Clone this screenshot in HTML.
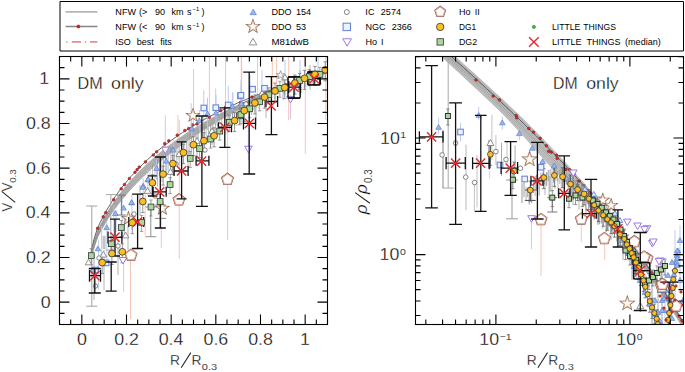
<!DOCTYPE html>
<html><head><meta charset="utf-8"><style>
html,body{margin:0;padding:0;background:#fff;width:685px;height:372px;overflow:hidden}
svg{display:block}
text{font-family:"Liberation Sans", sans-serif}
.th text{stroke:#fff;stroke-width:0.3px;paint-order:normal}
.th text.nt{stroke:#fff;stroke-width:0.15px}
</style></head><body>
<svg width="685" height="372" viewBox="0 0 685 372">
<defs><clipPath id="cl"><rect x="59.5" y="56.5" width="268" height="268"/></clipPath><clipPath id="cr"><rect x="415.5" y="56.5" width="268" height="268"/></clipPath></defs>
<path d="M60 1.5H683.5V51H60Z" fill="none" stroke="#000" stroke-width="1"/>
<path d="M65.6 11.9H97.4" stroke="#b5b5b5" stroke-width="1.6"/>
<path d="M65.6 26.5H97.4" stroke="#858585" stroke-width="1.6"/>
<circle cx="78.40" cy="26.50" r="1.5" fill="#e02020" stroke="#8a1010" stroke-width="0.6"/>
<path d="M66.3 41.9h1.2M71.9 41.9H81M85 41.9h1.2M90 41.9H97.4" stroke="#ec8a8a" stroke-width="1.6"/>
<polygon points="250.00,14.67 256.40,14.67 253.20,9.13" fill="#9ab6ee" stroke="#5f7fcc" stroke-width="0.7"/>
<polygon points="253.00,21.00 254.38,24.70 258.33,24.87 255.24,27.33 256.29,31.13 253.00,28.95 249.71,31.13 250.76,27.33 247.67,24.87 251.62,24.70" fill="none" stroke="#7d6a60" stroke-width="1.9"/><polygon points="253.00,21.00 254.38,24.70 258.33,24.87 255.24,27.33 256.29,31.13 253.00,28.95 249.71,31.13 250.76,27.33 247.67,24.87 251.62,24.70" fill="#fffaf4" stroke="#eab79c" stroke-width="0.8"/>
<polygon points="249.20,44.89 256.80,44.89 253.00,38.31" fill="#fff" stroke="#777" stroke-width="0.8"/>
<circle cx="346.80" cy="12.10" r="2.5" fill="#fff" stroke="#555" stroke-width="0.7"/>
<rect x="343.10" y="23.20" width="7.4" height="7.4" fill="#eef2ff" stroke="#6a86d8" stroke-width="1.1"/>
<polygon points="342.80,38.78 351.40,38.78 347.10,46.22" fill="#fff" stroke="#9a7ae6" stroke-width="1.0"/>
<polygon points="440.20,6.90 444.96,10.35 443.14,15.95 437.26,15.95 435.44,10.35" fill="none" stroke="#6a5a55" stroke-width="2.1"/><polygon points="440.20,6.90 444.96,10.35 443.14,15.95 437.26,15.95 435.44,10.35" fill="#fff" stroke="#eca48e" stroke-width="1.1"/>
<circle cx="440.20" cy="26.90" r="3.7" fill="#fbbf22" stroke="#333" stroke-width="0.8"/>
<rect x="437.00" y="38.70" width="6.4" height="6.4" fill="#a8d89a" stroke="#333" stroke-width="0.8"/>
<circle cx="533.90" cy="26.90" r="1.6" fill="#3cc03c" stroke="#1a6a1a" stroke-width="0.5"/>
<path d="M529.10 37.20L538.70 46.80M529.10 46.80L538.70 37.20" stroke="#e8262a" stroke-width="1.4" fill="none"/>
<text x="0" y="0" transform="translate(115.27,45.00) scale(1.040,1)" font-size="8.7" fill="#000" >ISO</text>
<text x="0" y="0" transform="translate(136.64,45.00) scale(1.040,1)" font-size="8.7" fill="#000" >best</text>
<text x="0" y="0" transform="translate(160.35,45.00) scale(1.040,1)" font-size="8.7" fill="#000" >fits</text>
<text x="0" y="0" transform="translate(271.56,14.80) scale(1.040,1)" font-size="8.7" fill="#000" >DDO</text>
<text x="0" y="0" transform="translate(295.95,14.80) scale(1.040,1)" font-size="8.7" fill="#000" >154</text>
<text x="0" y="0" transform="translate(271.56,29.90) scale(1.040,1)" font-size="8.7" fill="#000" >DDO</text>
<text x="0" y="0" transform="translate(296.04,29.90) scale(1.040,1)" font-size="8.7" fill="#000" >53</text>
<text x="0" y="0" transform="translate(271.51,45.00) scale(1.108,1)" font-size="8.7" fill="#000" >M81dwB</text>
<text x="0" y="0" transform="translate(365.37,14.80) scale(1.040,1)" font-size="8.7" fill="#000" >IC</text>
<text x="0" y="0" transform="translate(380.84,14.80) scale(1.040,1)" font-size="8.7" fill="#000" >2574</text>
<text x="0" y="0" transform="translate(365.46,29.90) scale(1.040,1)" font-size="8.7" fill="#000" >NGC</text>
<text x="0" y="0" transform="translate(391.77,29.90) scale(1.040,1)" font-size="8.7" fill="#000" >2366</text>
<text x="0" y="0" transform="translate(365.46,45.00) scale(1.040,1)" font-size="8.7" fill="#000" >Ho</text>
<text x="0" y="0" transform="translate(381.11,45.00) scale(1.040,1)" font-size="8.7" fill="#000" >I</text>
<text x="0" y="0" transform="translate(458.96,14.80) scale(1.040,1)" font-size="8.7" fill="#000" >Ho</text>
<text x="0" y="0" transform="translate(474.69,14.80) scale(1.040,1)" font-size="8.7" fill="#000" >II</text>
<text x="0" y="0" transform="translate(459.01,29.90) scale(0.961,1)" font-size="8.7" fill="#000" >DG1</text>
<text x="0" y="0" transform="translate(458.98,45.00) scale(1.016,1)" font-size="8.7" fill="#000" >DG2</text>
<text x="0" y="0" transform="translate(551.99,29.90) scale(0.992,1)" font-size="8.7" fill="#000" >LITTLE</text>
<text x="0" y="0" transform="translate(583.32,29.90) scale(0.992,1)" font-size="8.7" fill="#000" >THINGS</text>
<text x="0" y="0" transform="translate(551.96,45.00) scale(1.040,1)" font-size="8.7" fill="#000" >LITTLE</text>
<text x="0" y="0" transform="translate(586.46,45.00) scale(1.040,1)" font-size="8.7" fill="#000" >THINGS</text>
<text x="0" y="0" transform="translate(625.09,45.00) scale(1.040,1)" font-size="8.7" fill="#000" >(median)</text>
<text x="0" y="0" transform="translate(115.36,14.80) scale(1.040,1)" font-size="8.7" fill="#000" >NFW</text>
<text x="0" y="0" transform="translate(139.04,14.80) scale(1.040,1)" font-size="8.7" fill="#000" >(&gt;</text>
<text x="0" y="0" transform="translate(154.88,14.80) scale(1.040,1)" font-size="8.7" fill="#000" >90</text>
<text x="0" y="0" transform="translate(171.39,14.80) scale(1.040,1)" font-size="8.7" fill="#000" >km</text>
<text x="0" y="0" transform="translate(186.95,14.80) scale(1.040,1)" font-size="8.7" fill="#000" >s</text>
<text x="0" y="0" transform="translate(192.51,11.40) scale(1.000,1)" font-size="5.8" fill="#000" >−1</text>
<text x="0" y="0" transform="translate(201.55,14.80) scale(1.040,1)" font-size="8.7" fill="#000" >)</text>
<text x="0" y="0" transform="translate(115.36,29.90) scale(1.040,1)" font-size="8.7" fill="#000" >NFW</text>
<text x="0" y="0" transform="translate(139.04,29.90) scale(1.040,1)" font-size="8.7" fill="#000" >(&lt;</text>
<text x="0" y="0" transform="translate(154.88,29.90) scale(1.040,1)" font-size="8.7" fill="#000" >90</text>
<text x="0" y="0" transform="translate(171.39,29.90) scale(1.040,1)" font-size="8.7" fill="#000" >km</text>
<text x="0" y="0" transform="translate(186.95,29.90) scale(1.040,1)" font-size="8.7" fill="#000" >s</text>
<text x="0" y="0" transform="translate(192.51,26.50) scale(1.000,1)" font-size="5.8" fill="#000" >−1</text>
<text x="0" y="0" transform="translate(201.55,29.90) scale(1.040,1)" font-size="8.7" fill="#000" >)</text>
<g clip-path="url(#cl)">
<path d="M193.5 69V135" stroke="#f6c0aa" stroke-width="0.9"/>
<path d="M209.4 56.5V125" stroke="#f6c0aa" stroke-width="0.9"/>
<path d="M225.5 56.5V120" stroke="#f6c0aa" stroke-width="0.9"/>
<path d="M241.3 56.5V108" stroke="#f6c0aa" stroke-width="0.9"/>
<path d="M257.5 56.5V100" stroke="#f6c0aa" stroke-width="0.9"/>
<path d="M272.3 56.5V95" stroke="#f6c0aa" stroke-width="0.9"/>
<path d="M276.7 56.5V90" stroke="#f6c0aa" stroke-width="0.9"/>
<path d="M288.7 56.5V120" stroke="#f6c0aa" stroke-width="0.9"/>
<path d="M305.3 56.5V154" stroke="#f6c0aa" stroke-width="0.9"/>
<path d="M325.8 56.5V120" stroke="#f6c0aa" stroke-width="0.9"/>
<path d="M241.7 56.5V110" stroke="#f6c0aa" stroke-width="0.9"/>
<path d="M130.5 250V319" stroke="#f6c0aa" stroke-width="0.9"/>
<path d="M179.3 120V258.6" stroke="#f6c0aa" stroke-width="0.9"/>
<path d="M227.6 120V240" stroke="#f6c0aa" stroke-width="0.9"/>
<path d="M161.3 200V248" stroke="#f6c0aa" stroke-width="0.9"/>
<path d="M145.2 190V235" stroke="#f6c0aa" stroke-width="0.9"/>
<path d="M177.9 115V160" stroke="#f6c0aa" stroke-width="0.9"/>
<path d="M191.2 103.3V140" stroke="#b4c6f2" stroke-width="0.9"/>
<path d="M203.8 90.3V130" stroke="#b4c6f2" stroke-width="0.9"/>
<path d="M207.5 97.7V130" stroke="#b4c6f2" stroke-width="0.9"/>
<path d="M215.7 88.5V125" stroke="#b4c6f2" stroke-width="0.9"/>
<path d="M228.3 85.7V120" stroke="#b4c6f2" stroke-width="0.9"/>
<path d="M233.0 93.1V118" stroke="#b4c6f2" stroke-width="0.9"/>
<path d="M241.0 80.1V112" stroke="#b4c6f2" stroke-width="0.9"/>
<path d="M250 75V110" stroke="#b4c6f2" stroke-width="0.9"/>
<path d="M262 70V105" stroke="#b4c6f2" stroke-width="0.9"/>
<path d="M285 60V95" stroke="#b4c6f2" stroke-width="0.9"/>
<path d="M300 60V90" stroke="#b4c6f2" stroke-width="0.9"/>
<path d="M318 56.5V80" stroke="#b4c6f2" stroke-width="0.9"/>
<path d="M165.3 115.4V160" stroke="#d0c0f4" stroke-width="0.9"/>
<path d="M123.6 262V291.7" stroke="#d0c0f4" stroke-width="0.9"/>
<path d="M290.5 95V119" stroke="#d0c0f4" stroke-width="0.9"/>
<path d="M248.4 120V160" stroke="#d0c0f4" stroke-width="0.9"/>
<path d="M90.8 254.4 L94.3 241.2 L97.8 230.7 L101.3 223.5 L104.7 217.0 L108.2 211.0 L111.7 205.5 L115.2 200.4 L118.7 195.5 L122.2 191.0 L125.7 186.6 L129.2 182.5 L132.7 178.6 L136.2 174.9 L139.7 171.3 L143.2 167.8 L146.7 164.5 L150.2 161.3 L153.7 158.2 L157.2 155.2 L160.7 152.3 L164.2 149.5 L167.7 146.8 L171.2 144.2 L174.7 141.6 L178.2 139.1 L181.7 136.7 L185.1 134.4 L188.6 132.1 L192.1 129.9 L195.6 127.7 L199.1 125.6 L202.6 123.5 L206.1 121.5 L209.6 119.5 L213.1 117.6 L216.6 115.7 L220.1 113.9 L223.6 112.1 L227.1 110.3 L230.6 108.6 L234.1 106.9 L237.6 105.2 L241.1 103.6 L244.6 102.0 L248.1 100.5 L251.6 99.0 L255.1 97.5 L258.6 96.0 L262.1 94.6 L265.5 93.1 L269.0 91.8 L272.5 90.4 L276.0 89.1 L279.5 87.8 L283.0 86.5 L286.5 85.2 L290.0 84.0 L293.5 82.8 L297.0 81.6 L300.5 80.4 L304.0 79.2 L307.5 78.1 L311.0 77.0 L314.5 75.9 L318.0 74.8 L321.5 73.7 L325.0 72.7 L328.5 71.6 L332.0 70.6 L332.0 68.4 L328.5 69.7 L325.0 71.0 L321.5 72.4 L318.0 73.7 L314.5 75.1 L311.0 76.5 L307.5 77.9 L304.0 79.3 L300.5 80.7 L297.0 82.2 L293.5 83.7 L290.0 85.2 L286.5 86.7 L283.0 88.2 L279.5 89.8 L276.0 91.3 L272.5 92.9 L269.0 94.6 L265.5 96.2 L262.1 97.9 L258.6 99.5 L255.1 101.3 L251.6 103.0 L248.1 104.8 L244.6 106.6 L241.1 108.4 L237.6 110.2 L234.1 112.1 L230.6 114.0 L227.1 116.0 L223.6 117.9 L220.1 119.9 L216.6 122.0 L213.1 124.1 L209.6 126.2 L206.1 128.3 L202.6 130.5 L199.1 132.8 L195.6 135.0 L192.1 137.4 L188.6 139.8 L185.1 142.2 L181.7 144.7 L178.2 147.2 L174.7 149.8 L171.2 152.5 L167.7 155.2 L164.2 158.0 L160.7 160.9 L157.2 163.8 L153.7 166.8 L150.2 170.0 L146.7 173.2 L143.2 176.5 L139.7 179.9 L136.2 183.5 L132.7 187.2 L129.2 191.0 L125.7 195.0 L122.2 199.2 L118.7 203.6 L115.2 208.2 L111.7 213.2 L108.2 218.4 L104.7 224.0 L101.3 230.1 L97.8 236.8 L94.3 246.8 L90.8 259.2Z" fill="#c6c6c6" stroke="none"/>
<path d="M90.8 259.2 L94.3 246.8 L97.8 236.8 L101.3 230.1 L104.7 224.0 L108.2 218.4 L111.7 213.2 L115.2 208.2 L118.7 203.6 L122.2 199.2 L125.7 195.0 L129.2 191.0 L132.7 187.2 L136.2 183.5 L139.7 179.9 L143.2 176.5 L146.7 173.2 L150.2 170.0 L153.7 166.8 L157.2 163.8 L160.7 160.9 L164.2 158.0 L167.7 155.2 L171.2 152.5 L174.7 149.8 L178.2 147.2 L181.7 144.7 L185.1 142.2 L188.6 139.8 L192.1 137.4 L195.6 135.0 L199.1 132.8 L202.6 130.5 L206.1 128.3 L209.6 126.2 L213.1 124.1 L216.6 122.0 L220.1 119.9 L223.6 117.9 L227.1 116.0 L230.6 114.0 L234.1 112.1 L237.6 110.2 L241.1 108.4 L244.6 106.6 L248.1 104.8 L251.6 103.0 L255.1 101.3 L258.6 99.5 L262.1 97.9 L265.5 96.2 L269.0 94.6 L272.5 92.9 L276.0 91.3 L279.5 89.8 L283.0 88.2 L286.5 86.7 L290.0 85.2 L293.5 83.7 L297.0 82.2 L300.5 80.7 L304.0 79.3 L307.5 77.9 L311.0 76.5 L314.5 75.1 L318.0 73.7 L321.5 72.4 L325.0 71.0 L328.5 69.7 L332.0 68.4" fill="none" stroke="#959595" stroke-width="0.7"/>
<path d="M90.8 258.4 L94.3 245.8 L97.8 235.7 L101.3 229.0 L104.7 222.8 L108.2 217.1 L111.7 211.8 L115.2 206.9 L118.7 202.2 L122.2 197.8 L125.7 193.6 L129.2 189.6 L132.7 185.7 L136.2 182.0 L139.7 178.4 L143.2 175.0 L146.7 171.7 L150.2 168.4 L153.7 165.3 L157.2 162.3 L160.7 159.4 L164.2 156.5 L167.7 153.7 L171.2 151.0 L174.7 148.4 L178.2 145.8 L181.7 143.3 L185.1 140.8 L188.6 138.4 L192.1 136.0 L195.6 133.7 L199.1 131.5 L202.6 129.3 L206.1 127.1 L209.6 125.0 L213.1 122.9 L216.6 120.8 L220.1 118.8 L223.6 116.9 L227.1 114.9 L230.6 113.0 L234.1 111.2 L237.6 109.3 L241.1 107.5 L244.6 105.7 L248.1 104.0 L251.6 102.3 L255.1 100.6 L258.6 98.9 L262.1 97.3 L265.5 95.6 L269.0 94.0 L272.5 92.5 L276.0 90.9 L279.5 89.4 L283.0 87.9 L286.5 86.4 L290.0 84.9 L293.5 83.5 L297.0 82.1 L300.5 80.7 L304.0 79.3 L307.5 77.9 L311.0 76.6 L314.5 75.2 L318.0 73.9 L321.5 72.6 L325.0 71.3 L328.5 70.1 L332.0 68.8" fill="none" stroke="#959595" stroke-width="0.7"/>
<path d="M90.8 257.6 L94.3 244.9 L97.8 234.7 L101.3 227.8 L104.7 221.6 L108.2 215.9 L111.7 210.5 L115.2 205.6 L118.7 200.9 L122.2 196.4 L125.7 192.2 L129.2 188.1 L132.7 184.2 L136.2 180.5 L139.7 176.9 L143.2 173.5 L146.7 170.2 L150.2 167.0 L153.7 163.8 L157.2 160.8 L160.7 157.9 L164.2 155.0 L167.7 152.3 L171.2 149.6 L174.7 146.9 L178.2 144.4 L181.7 141.9 L185.1 139.4 L188.6 137.1 L192.1 134.7 L195.6 132.5 L199.1 130.2 L202.6 128.0 L206.1 125.9 L209.6 123.8 L213.1 121.8 L216.6 119.8 L220.1 117.8 L223.6 115.8 L227.1 113.9 L230.6 112.1 L234.1 110.2 L237.6 108.4 L241.1 106.7 L244.6 104.9 L248.1 103.2 L251.6 101.6 L255.1 99.9 L258.6 98.3 L262.1 96.7 L265.5 95.1 L269.0 93.6 L272.5 92.0 L276.0 90.5 L279.5 89.0 L283.0 87.6 L286.5 86.2 L290.0 84.7 L293.5 83.3 L297.0 82.0 L300.5 80.6 L304.0 79.3 L307.5 78.0 L311.0 76.7 L314.5 75.4 L318.0 74.1 L321.5 72.9 L325.0 71.6 L328.5 70.4 L332.0 69.2" fill="none" stroke="#959595" stroke-width="0.7"/>
<path d="M90.8 256.8 L94.3 244.0 L97.8 233.7 L101.3 226.7 L104.7 220.4 L108.2 214.6 L111.7 209.3 L115.2 204.2 L118.7 199.5 L122.2 195.0 L125.7 190.7 L129.2 186.7 L132.7 182.8 L136.2 179.1 L139.7 175.5 L143.2 172.0 L146.7 168.7 L150.2 165.5 L153.7 162.4 L157.2 159.4 L160.7 156.5 L164.2 153.6 L167.7 150.9 L171.2 148.2 L174.7 145.6 L178.2 143.0 L181.7 140.5 L185.1 138.1 L188.6 135.8 L192.1 133.5 L195.6 131.2 L199.1 129.0 L202.6 126.9 L206.1 124.8 L209.6 122.7 L213.1 120.7 L216.6 118.7 L220.1 116.8 L223.6 114.9 L227.1 113.0 L230.6 111.2 L234.1 109.4 L237.6 107.6 L241.1 105.9 L244.6 104.2 L248.1 102.5 L251.6 100.9 L255.1 99.3 L258.6 97.7 L262.1 96.1 L265.5 94.6 L269.0 93.1 L272.5 91.6 L276.0 90.1 L279.5 88.7 L283.0 87.3 L286.5 85.9 L290.0 84.5 L293.5 83.2 L297.0 81.9 L300.5 80.5 L304.0 79.3 L307.5 78.0 L311.0 76.7 L314.5 75.5 L318.0 74.3 L321.5 73.1 L325.0 71.9 L328.5 70.7 L332.0 69.6" fill="none" stroke="#959595" stroke-width="0.7"/>
<path d="M90.8 256.0 L94.3 243.0 L97.8 232.7 L101.3 225.6 L104.7 219.3 L108.2 213.4 L111.7 208.0 L115.2 202.9 L118.7 198.2 L122.2 193.6 L125.7 189.4 L129.2 185.3 L132.7 181.4 L136.2 177.6 L139.7 174.1 L143.2 170.6 L146.7 167.3 L150.2 164.1 L153.7 161.0 L157.2 158.0 L160.7 155.0 L164.2 152.2 L167.7 149.5 L171.2 146.8 L174.7 144.2 L178.2 141.7 L181.7 139.2 L185.1 136.8 L188.6 134.5 L192.1 132.2 L195.6 130.0 L199.1 127.8 L202.6 125.7 L206.1 123.6 L209.6 121.6 L213.1 119.6 L216.6 117.7 L220.1 115.8 L223.6 113.9 L227.1 112.1 L230.6 110.3 L234.1 108.5 L237.6 106.8 L241.1 105.1 L244.6 103.4 L248.1 101.8 L251.6 100.2 L255.1 98.6 L258.6 97.1 L262.1 95.6 L265.5 94.1 L269.0 92.6 L272.5 91.2 L276.0 89.8 L279.5 88.4 L283.0 87.0 L286.5 85.7 L290.0 84.3 L293.5 83.0 L297.0 81.8 L300.5 80.5 L304.0 79.2 L307.5 78.0 L311.0 76.8 L314.5 75.6 L318.0 74.5 L321.5 73.3 L325.0 72.2 L328.5 71.1 L332.0 69.9" fill="none" stroke="#959595" stroke-width="0.7"/>
<path d="M90.8 255.2 L94.3 242.1 L97.8 231.7 L101.3 224.5 L104.7 218.1 L108.2 212.2 L111.7 206.7 L115.2 201.6 L118.7 196.8 L122.2 192.3 L125.7 188.0 L129.2 183.9 L132.7 180.0 L136.2 176.2 L139.7 172.6 L143.2 169.2 L146.7 165.9 L150.2 162.7 L153.7 159.6 L157.2 156.6 L160.7 153.7 L164.2 150.9 L167.7 148.1 L171.2 145.5 L174.7 142.9 L178.2 140.4 L181.7 138.0 L185.1 135.6 L188.6 133.3 L192.1 131.0 L195.6 128.8 L199.1 126.7 L202.6 124.6 L206.1 122.5 L209.6 120.5 L213.1 118.6 L216.6 116.7 L220.1 114.8 L223.6 113.0 L227.1 111.2 L230.6 109.4 L234.1 107.7 L237.6 106.0 L241.1 104.3 L244.6 102.7 L248.1 101.1 L251.6 99.6 L255.1 98.0 L258.6 96.5 L262.1 95.1 L265.5 93.6 L269.0 92.2 L272.5 90.8 L276.0 89.4 L279.5 88.1 L283.0 86.7 L286.5 85.4 L290.0 84.2 L293.5 82.9 L297.0 81.6 L300.5 80.4 L304.0 79.2 L307.5 78.0 L311.0 76.9 L314.5 75.7 L318.0 74.6 L321.5 73.5 L325.0 72.4 L328.5 71.3 L332.0 70.3" fill="none" stroke="#959595" stroke-width="0.7"/>
<path d="M90.8 254.4 L94.3 241.2 L97.8 230.7 L101.3 223.5 L104.7 217.0 L108.2 211.0 L111.7 205.5 L115.2 200.4 L118.7 195.5 L122.2 191.0 L125.7 186.6 L129.2 182.5 L132.7 178.6 L136.2 174.9 L139.7 171.3 L143.2 167.8 L146.7 164.5 L150.2 161.3 L153.7 158.2 L157.2 155.2 L160.7 152.3 L164.2 149.5 L167.7 146.8 L171.2 144.2 L174.7 141.6 L178.2 139.1 L181.7 136.7 L185.1 134.4 L188.6 132.1 L192.1 129.9 L195.6 127.7 L199.1 125.6 L202.6 123.5 L206.1 121.5 L209.6 119.5 L213.1 117.6 L216.6 115.7 L220.1 113.9 L223.6 112.1 L227.1 110.3 L230.6 108.6 L234.1 106.9 L237.6 105.2 L241.1 103.6 L244.6 102.0 L248.1 100.5 L251.6 99.0 L255.1 97.5 L258.6 96.0 L262.1 94.6 L265.5 93.1 L269.0 91.8 L272.5 90.4 L276.0 89.1 L279.5 87.8 L283.0 86.5 L286.5 85.2 L290.0 84.0 L293.5 82.8 L297.0 81.6 L300.5 80.4 L304.0 79.2 L307.5 78.1 L311.0 77.0 L314.5 75.9 L318.0 74.8 L321.5 73.7 L325.0 72.7 L328.5 71.6 L332.0 70.6" fill="none" stroke="#959595" stroke-width="0.7"/>
<path d="M91.1 250.8 L94.1 239.0 L97.2 229.0 L100.2 222.4 L103.3 216.4 L106.3 210.8 L109.4 205.7 L112.4 200.8 L115.5 196.3 L118.5 192.0 L121.6 187.9 L124.6 184.1 L127.7 180.4 L130.7 176.8 L133.8 173.5 L136.8 170.2 L139.9 167.1 L142.9 164.1 L146.0 161.2 L149.0 158.3 L152.1 155.6 L155.1 153.0 L158.2 150.5 L161.2 148.0 L164.3 145.6 L167.3 143.3 L170.4 141.0 L173.4 138.8 L176.5 136.7 L179.5 134.6 L182.6 132.6 L185.6 130.6 L188.7 128.7 L191.7 126.8 L194.8 124.9 L197.8 123.1 L200.9 121.4 L203.9 119.7 L206.9 118.0 L210.0 116.4 L213.0 114.8 L216.1 113.2 L219.1 111.7 L222.2 110.2 L225.2 108.7 L228.3 107.3 L231.3 105.9 L234.4 104.5 L237.4 103.1 L240.5 101.8 L243.5 100.5 L246.6 99.3 L249.6 98.0 L252.7 96.8 L255.7 95.6 L258.8 94.4 L261.8 93.2 L264.9 92.1 L267.9 91.0 L271.0 89.9 L274.0 88.8 L277.1 87.8 L280.1 86.7 L283.2 85.7 L286.2 84.7 L289.3 83.7 L292.3 82.7 L295.4 81.8 L298.4 80.8 L301.5 79.9 L304.5 79.0 L307.6 78.1 L310.6 77.3 L313.7 76.4 L316.7 75.5 L319.8 74.7 L322.8 73.9 L325.9 73.1 L328.9 72.3 L332.0 71.5" fill="none" stroke="#505050" stroke-width="0.9"/>
<circle cx="97.60" cy="228.30" r="1.35" fill="#d42a2a" stroke="#7a1515" stroke-width="0.5"/>
<circle cx="103.20" cy="216.90" r="1.35" fill="#d42a2a" stroke="#7a1515" stroke-width="0.5"/>
<circle cx="105.80" cy="212.60" r="1.35" fill="#d42a2a" stroke="#7a1515" stroke-width="0.5"/>
<circle cx="113.70" cy="199.70" r="1.35" fill="#d42a2a" stroke="#7a1515" stroke-width="0.5"/>
<circle cx="121.20" cy="188.80" r="1.35" fill="#d42a2a" stroke="#7a1515" stroke-width="0.5"/>
<circle cx="124.50" cy="184.60" r="1.35" fill="#d42a2a" stroke="#7a1515" stroke-width="0.5"/>
<circle cx="129.40" cy="178.50" r="1.35" fill="#d42a2a" stroke="#7a1515" stroke-width="0.5"/>
<circle cx="135.00" cy="172.30" r="1.35" fill="#d42a2a" stroke="#7a1515" stroke-width="0.5"/>
<circle cx="137.10" cy="169.70" r="1.35" fill="#d42a2a" stroke="#7a1515" stroke-width="0.5"/>
<circle cx="139.30" cy="167.10" r="1.35" fill="#d42a2a" stroke="#7a1515" stroke-width="0.5"/>
<circle cx="145.50" cy="161.90" r="1.35" fill="#d42a2a" stroke="#7a1515" stroke-width="0.5"/>
<circle cx="153.30" cy="155.00" r="1.35" fill="#d42a2a" stroke="#7a1515" stroke-width="0.5"/>
<circle cx="156.60" cy="151.80" r="1.35" fill="#d42a2a" stroke="#7a1515" stroke-width="0.5"/>
<circle cx="164.70" cy="143.70" r="1.35" fill="#d42a2a" stroke="#7a1515" stroke-width="0.5"/>
<circle cx="168.80" cy="140.80" r="1.35" fill="#d42a2a" stroke="#7a1515" stroke-width="0.5"/>
<circle cx="177.30" cy="135.20" r="1.35" fill="#d42a2a" stroke="#7a1515" stroke-width="0.5"/>
<circle cx="184.80" cy="130.50" r="1.35" fill="#d42a2a" stroke="#7a1515" stroke-width="0.5"/>
<circle cx="188.60" cy="128.60" r="1.35" fill="#d42a2a" stroke="#7a1515" stroke-width="0.5"/>
<circle cx="192.40" cy="124.80" r="1.35" fill="#d42a2a" stroke="#7a1515" stroke-width="0.5"/>
<circle cx="197.10" cy="123.90" r="1.35" fill="#d42a2a" stroke="#7a1515" stroke-width="0.5"/>
<circle cx="209.30" cy="117.30" r="1.35" fill="#d42a2a" stroke="#7a1515" stroke-width="0.5"/>
<circle cx="220.60" cy="110.70" r="1.35" fill="#d42a2a" stroke="#7a1515" stroke-width="0.5"/>
<circle cx="225.30" cy="107.30" r="1.35" fill="#d42a2a" stroke="#7a1515" stroke-width="0.5"/>
<circle cx="240.50" cy="102.50" r="1.35" fill="#d42a2a" stroke="#7a1515" stroke-width="0.5"/>
<circle cx="252.00" cy="97.05" r="1.35" fill="#d42a2a" stroke="#7a1515" stroke-width="0.5"/>
<circle cx="262.00" cy="93.17" r="1.35" fill="#d42a2a" stroke="#7a1515" stroke-width="0.5"/>
<circle cx="274.00" cy="88.82" r="1.35" fill="#d42a2a" stroke="#7a1515" stroke-width="0.5"/>
<circle cx="286.00" cy="84.77" r="1.35" fill="#d42a2a" stroke="#7a1515" stroke-width="0.5"/>
<circle cx="297.00" cy="81.28" r="1.35" fill="#d42a2a" stroke="#7a1515" stroke-width="0.5"/>
<circle cx="308.00" cy="78.01" r="1.35" fill="#d42a2a" stroke="#7a1515" stroke-width="0.5"/>
<circle cx="318.00" cy="75.19" r="1.35" fill="#d42a2a" stroke="#7a1515" stroke-width="0.5"/>
<rect x="102.5" y="235.8" width="3.0999999999999943" height="13.199999999999989" fill="#c4c4c4"/>
<path d="M124.3 216V238" stroke="#b0b0b0" stroke-width="0.9"/>
<path d="M101.6 226V265" stroke="#b5c6ee" stroke-width="0.9"/>
<path d="M106.9 222V262" stroke="#b5c6ee" stroke-width="0.9"/>
<path d="M113.8 205V250" stroke="#b5c6ee" stroke-width="0.9"/>
<path d="M116.1 210V232" stroke="#b5c6ee" stroke-width="0.9"/>
<path d="M122.2 200V240" stroke="#b5c6ee" stroke-width="0.9"/>
<path d="M98.6 240V290" stroke="#b5c6ee" stroke-width="0.9"/>
<path d="M131.9 195V230" stroke="#b5c6ee" stroke-width="0.9"/>
<path d="M143.2 178V200" stroke="#b5c6ee" stroke-width="0.9"/>
<path d="M147.9 170V195" stroke="#b5c6ee" stroke-width="0.9"/>
<path d="M156.6 160V180" stroke="#b5c6ee" stroke-width="0.9"/>
<path d="M166.2 150V175" stroke="#b5c6ee" stroke-width="0.9"/>
<path d="M173.2 140V162" stroke="#b5c6ee" stroke-width="0.9"/>
<path d="M191.7 118V140" stroke="#b5c6ee" stroke-width="0.9"/>
<path d="M199.3 110V132" stroke="#b5c6ee" stroke-width="0.9"/>
<path d="M207.5 100V128" stroke="#b5c6ee" stroke-width="0.9"/>
<path d="M216.0 95V125" stroke="#b5c6ee" stroke-width="0.9"/>
<path d="M232.4 92V118" stroke="#b5c6ee" stroke-width="0.9"/>
<path d="M241.3 85V115" stroke="#b5c6ee" stroke-width="0.9"/>
<path d="M140 185V215" stroke="#aaa" stroke-width="0.9"/>
<path d="M170.5 160V185" stroke="#aaa" stroke-width="0.9"/>
<path d="M188 150V170" stroke="#aaa" stroke-width="0.9"/>
<path d="M197 130V160" stroke="#aaa" stroke-width="0.9"/>
<path d="M212 120V145" stroke="#aaa" stroke-width="0.9"/>
<path d="M256 95V125" stroke="#aaa" stroke-width="0.9"/>
<path d="M266 88V118" stroke="#aaa" stroke-width="0.9"/>
<path d="M283 75V100" stroke="#aaa" stroke-width="0.9"/>
<path d="M300 70V95" stroke="#aaa" stroke-width="0.9"/>
<path d="M310 65V90" stroke="#aaa" stroke-width="0.9"/>
<path d="M94 255V300" stroke="#aaa" stroke-width="0.9"/>
<path d="M104 250V290" stroke="#aaa" stroke-width="0.9"/>
<path d="M118 240V275" stroke="#aaa" stroke-width="0.9"/>
<path d="M128 225V250" stroke="#aaa" stroke-width="0.9"/>
<path d="M91.8 206.0V306.2M86.3 206.0h11M86.3 306.2h11" stroke="#a0a0a0" stroke-width="1.0" fill="none"/>
<path d="M110.8 194.6V250.0M105.8 194.6h10M105.8 250.0h10" stroke="#a8a8a8" stroke-width="1.0" fill="none"/>
<path d="M150.8 207.0V236.7M145.3 207.0h11M145.3 236.7h11" stroke="#909090" stroke-width="1.0" fill="none"/>
<path d="M160.5 205.0V218.4M155.0 205.0h11M155.0 218.4h11" stroke="#8a8a8a" stroke-width="1.0" fill="none"/>
<path d="M121.4 195.1V215.0M116.9 195.1h9M116.9 215.0h9" stroke="#777" stroke-width="1.0" fill="none"/>
<path d="M150.0 164.7V192.0" stroke="#b4b4b4" stroke-width="0.55"/>
<path d="M152.5 163.9V187.7" stroke="#8c8c8c" stroke-width="0.55"/>
<path d="M155.0 161.7V185.3" stroke="#a0a0a0" stroke-width="0.55"/>
<path d="M157.6 159.5V186.6" stroke="#7a7a7a" stroke-width="0.55"/>
<path d="M159.5 160.3V177.8" stroke="#a0a0a0" stroke-width="0.55"/>
<path d="M161.9 156.3V182.0" stroke="#8c8c8c" stroke-width="0.55"/>
<path d="M163.5 157.6V172.2" stroke="#8c8c8c" stroke-width="0.55"/>
<path d="M165.9 151.6V176.3" stroke="#7a7a7a" stroke-width="0.55"/>
<path d="M168.1 153.7V171.4" stroke="#7a7a7a" stroke-width="0.55"/>
<path d="M170.7 147.1V168.3" stroke="#8c8c8c" stroke-width="0.55"/>
<path d="M172.3 146.4V173.9" stroke="#7a7a7a" stroke-width="0.55"/>
<path d="M174.6 148.5V164.9" stroke="#7a7a7a" stroke-width="0.55"/>
<path d="M176.7 145.1V162.5" stroke="#a0a0a0" stroke-width="0.55"/>
<path d="M179.2 144.2V166.2" stroke="#b4b4b4" stroke-width="0.55"/>
<path d="M181.8 142.3V154.3" stroke="#b4b4b4" stroke-width="0.55"/>
<path d="M184.3 142.0V156.7" stroke="#a0a0a0" stroke-width="0.55"/>
<path d="M186.5 141.0V151.4" stroke="#8c8c8c" stroke-width="0.55"/>
<path d="M188.0 139.3V158.9" stroke="#8c8c8c" stroke-width="0.55"/>
<path d="M189.8 133.4V156.3" stroke="#8c8c8c" stroke-width="0.55"/>
<path d="M191.5 136.4V154.7" stroke="#8c8c8c" stroke-width="0.55"/>
<path d="M193.6 135.0V147.1" stroke="#b4b4b4" stroke-width="0.55"/>
<path d="M195.7 134.7V145.2" stroke="#a0a0a0" stroke-width="0.55"/>
<path d="M198.3 129.4V141.8" stroke="#8c8c8c" stroke-width="0.55"/>
<path d="M200.8 131.9V143.4" stroke="#b4b4b4" stroke-width="0.55"/>
<path d="M202.4 125.3V149.7" stroke="#b4b4b4" stroke-width="0.55"/>
<path d="M204.3 124.8V148.9" stroke="#7a7a7a" stroke-width="0.55"/>
<path d="M206.2 126.0V145.4" stroke="#8c8c8c" stroke-width="0.55"/>
<path d="M208.4 127.3V142.7" stroke="#7a7a7a" stroke-width="0.55"/>
<path d="M210.5 124.7V146.8" stroke="#7a7a7a" stroke-width="0.55"/>
<path d="M213.1 122.1V140.9" stroke="#8c8c8c" stroke-width="0.55"/>
<path d="M215.4 123.6V136.6" stroke="#7a7a7a" stroke-width="0.55"/>
<path d="M217.6 120.3V131.9" stroke="#b4b4b4" stroke-width="0.55"/>
<path d="M219.5 119.5V134.0" stroke="#b4b4b4" stroke-width="0.55"/>
<path d="M221.8 114.3V128.8" stroke="#8c8c8c" stroke-width="0.55"/>
<path d="M224.4 114.4V131.7" stroke="#b4b4b4" stroke-width="0.55"/>
<path d="M226.0 113.1V134.1" stroke="#b4b4b4" stroke-width="0.55"/>
<path d="M227.8 113.4V132.9" stroke="#8c8c8c" stroke-width="0.55"/>
<path d="M230.3 113.9V123.4" stroke="#a0a0a0" stroke-width="0.55"/>
<path d="M232.5 110.4V124.1" stroke="#7a7a7a" stroke-width="0.55"/>
<path d="M234.7 108.3V125.7" stroke="#b4b4b4" stroke-width="0.55"/>
<path d="M236.9 107.9V126.0" stroke="#a0a0a0" stroke-width="0.55"/>
<path d="M238.4 110.3V117.3" stroke="#7a7a7a" stroke-width="0.55"/>
<path d="M240.1 109.8V113.3" stroke="#a0a0a0" stroke-width="0.55"/>
<path d="M241.9 109.2V118.0" stroke="#b4b4b4" stroke-width="0.55"/>
<path d="M243.7 108.3V110.2" stroke="#b4b4b4" stroke-width="0.55"/>
<path d="M245.8 104.9V113.7" stroke="#b4b4b4" stroke-width="0.55"/>
<path d="M247.8 105.3V109.6" stroke="#7a7a7a" stroke-width="0.55"/>
<path d="M249.2 103.3V107.4" stroke="#7a7a7a" stroke-width="0.55"/>
<path d="M251.7 105.0V115.0" stroke="#7a7a7a" stroke-width="0.55"/>
<path d="M253.8 104.7V110.3" stroke="#8c8c8c" stroke-width="0.55"/>
<path d="M256.1 102.8V108.1" stroke="#b4b4b4" stroke-width="0.55"/>
<path d="M258.2 102.2V109.3" stroke="#b4b4b4" stroke-width="0.55"/>
<path d="M259.7 97.7V98.4" stroke="#a0a0a0" stroke-width="0.55"/>
<path d="M262.2 100.6V103.4" stroke="#8c8c8c" stroke-width="0.55"/>
<path d="M264.2 95.1V101.3" stroke="#a0a0a0" stroke-width="0.55"/>
<path d="M266.3 96.6V99.0" stroke="#8c8c8c" stroke-width="0.55"/>
<path d="M268.2 94.2V103.3" stroke="#7a7a7a" stroke-width="0.55"/>
<path d="M270.5 92.1V94.2" stroke="#8c8c8c" stroke-width="0.55"/>
<path d="M274.9 95.5V98.7" stroke="#8c8c8c" stroke-width="0.55"/>
<path d="M276.9 92.6V93.1" stroke="#b4b4b4" stroke-width="0.55"/>
<path d="M278.6 92.2V94.0" stroke="#8c8c8c" stroke-width="0.55"/>
<path d="M282.0 88.0V88.0" stroke="#8c8c8c" stroke-width="0.55"/>
<path d="M284.0 86.6V94.4" stroke="#7a7a7a" stroke-width="0.55"/>
<path d="M285.8 87.7V89.3" stroke="#7a7a7a" stroke-width="0.55"/>
<path d="M289.7 85.1V90.1" stroke="#7a7a7a" stroke-width="0.55"/>
<path d="M294.0 86.7V88.0" stroke="#8c8c8c" stroke-width="0.55"/>
<path d="M296.1 84.6V85.0" stroke="#7a7a7a" stroke-width="0.55"/>
<path d="M298.5 83.1V90.8" stroke="#7a7a7a" stroke-width="0.55"/>
<path d="M300.4 81.9V84.8" stroke="#8c8c8c" stroke-width="0.55"/>
<path d="M304.2 81.1V88.2" stroke="#b4b4b4" stroke-width="0.55"/>
<path d="M305.8 82.8V87.2" stroke="#7a7a7a" stroke-width="0.55"/>
<path d="M312.6 76.9V83.9" stroke="#a0a0a0" stroke-width="0.55"/>
<path d="M314.9 77.6V82.6" stroke="#8c8c8c" stroke-width="0.55"/>
<path d="M317.4 78.8V81.4" stroke="#b4b4b4" stroke-width="0.55"/>
<path d="M321.8 76.4V77.9" stroke="#8c8c8c" stroke-width="0.55"/>
<path d="M323.8 73.3V75.1" stroke="#b4b4b4" stroke-width="0.55"/>
<path d="M102.2 254.6V273.6M100.5 254.6h3.5M100.5 273.6h3.5" stroke="#6a6a6a" stroke-width="0.7" fill="none"/>
<path d="M111.9 245.5V264.5M110.2 245.5h3.5M110.2 264.5h3.5" stroke="#6a6a6a" stroke-width="0.7" fill="none"/>
<path d="M122.3 243.8V262.8M120.5 243.8h3.5M120.5 262.8h3.5" stroke="#6a6a6a" stroke-width="0.7" fill="none"/>
<path d="M132.3 214.7V233.7M130.6 214.7h3.5M130.6 233.7h3.5" stroke="#6a6a6a" stroke-width="0.7" fill="none"/>
<path d="M142.8 193.5V212.5M141.1 193.5h3.5M141.1 212.5h3.5" stroke="#6a6a6a" stroke-width="0.7" fill="none"/>
<path d="M152.4 174.8V193.8M150.7 174.8h3.5M150.7 193.8h3.5" stroke="#6a6a6a" stroke-width="0.7" fill="none"/>
<path d="M163.1 166.1V185.1M161.3 166.1h3.5M161.3 185.1h3.5" stroke="#6a6a6a" stroke-width="0.7" fill="none"/>
<path d="M172.9 155.6V174.6M171.2 155.6h3.5M171.2 174.6h3.5" stroke="#6a6a6a" stroke-width="0.7" fill="none"/>
<path d="M183.4 144.6V163.6M181.7 144.6h3.5M181.7 163.6h3.5" stroke="#6a6a6a" stroke-width="0.7" fill="none"/>
<path d="M193.4 136.7V155.7M191.7 136.7h3.5M191.7 155.7h3.5" stroke="#6a6a6a" stroke-width="0.7" fill="none"/>
<path d="M204.0 132.7V151.7M202.2 132.7h3.5M202.2 151.7h3.5" stroke="#6a6a6a" stroke-width="0.7" fill="none"/>
<path d="M214.1 127.8V146.8M212.3 127.8h3.5M212.3 146.8h3.5" stroke="#6a6a6a" stroke-width="0.7" fill="none"/>
<path d="M234.6 112.6V131.6M232.8 112.6h3.5M232.8 131.6h3.5" stroke="#6a6a6a" stroke-width="0.7" fill="none"/>
<path d="M244.3 102.6V121.6M242.6 102.6h3.5M242.6 121.6h3.5" stroke="#6a6a6a" stroke-width="0.7" fill="none"/>
<path d="M254.9 94.9V113.9M253.2 94.9h3.5M253.2 113.9h3.5" stroke="#6a6a6a" stroke-width="0.7" fill="none"/>
<path d="M264.5 89.1V108.1M262.8 89.1h3.5M262.8 108.1h3.5" stroke="#6a6a6a" stroke-width="0.7" fill="none"/>
<path d="M275.0 83.0V102.0M273.2 83.0h3.5M273.2 102.0h3.5" stroke="#6a6a6a" stroke-width="0.7" fill="none"/>
<path d="M284.7 79.6V98.6M282.9 79.6h3.5M282.9 98.6h3.5" stroke="#6a6a6a" stroke-width="0.7" fill="none"/>
<path d="M294.9 75.1V94.1M293.1 75.1h3.5M293.1 94.1h3.5" stroke="#6a6a6a" stroke-width="0.7" fill="none"/>
<path d="M304.5 70.4V89.4M302.8 70.4h3.5M302.8 89.4h3.5" stroke="#6a6a6a" stroke-width="0.7" fill="none"/>
<path d="M315.0 66.4V85.4M313.2 66.4h3.5M313.2 85.4h3.5" stroke="#6a6a6a" stroke-width="0.7" fill="none"/>
<path d="M325.2 61.8V80.8M323.4 61.8h3.5M323.4 80.8h3.5" stroke="#6a6a6a" stroke-width="0.7" fill="none"/>
<path d="M91.3 248.6V264.6M89.5 248.6h3.5M89.5 264.6h3.5" stroke="#7a7a7a" stroke-width="0.7" fill="none"/>
<path d="M111.4 236.7V252.7M109.7 236.7h3.5M109.7 252.7h3.5" stroke="#7a7a7a" stroke-width="0.7" fill="none"/>
<path d="M121.3 220.6V236.6M119.5 220.6h3.5M119.5 236.6h3.5" stroke="#7a7a7a" stroke-width="0.7" fill="none"/>
<path d="M141.6 215.4V231.4M139.8 215.4h3.5M139.8 231.4h3.5" stroke="#7a7a7a" stroke-width="0.7" fill="none"/>
<path d="M151.0 200.0V216.0M149.2 200.0h3.5M149.2 216.0h3.5" stroke="#7a7a7a" stroke-width="0.7" fill="none"/>
<path d="M160.1 194.5V210.5M158.3 194.5h3.5M158.3 210.5h3.5" stroke="#7a7a7a" stroke-width="0.7" fill="none"/>
<path d="M170.1 177.6V193.6M168.3 177.6h3.5M168.3 193.6h3.5" stroke="#7a7a7a" stroke-width="0.7" fill="none"/>
<path d="M190.2 151.4V167.4M188.4 151.4h3.5M188.4 167.4h3.5" stroke="#7a7a7a" stroke-width="0.7" fill="none"/>
<path d="M199.6 141.6V157.6M197.8 141.6h3.5M197.8 157.6h3.5" stroke="#7a7a7a" stroke-width="0.7" fill="none"/>
<path d="M210.6 132.0V148.0M208.8 132.0h3.5M208.8 148.0h3.5" stroke="#7a7a7a" stroke-width="0.7" fill="none"/>
<path d="M219.7 124.1V140.1M217.9 124.1h3.5M217.9 140.1h3.5" stroke="#7a7a7a" stroke-width="0.7" fill="none"/>
<path d="M229.3 115.3V131.3M227.6 115.3h3.5M227.6 131.3h3.5" stroke="#7a7a7a" stroke-width="0.7" fill="none"/>
<path d="M239.5 108.8V124.8M237.8 108.8h3.5M237.8 124.8h3.5" stroke="#7a7a7a" stroke-width="0.7" fill="none"/>
<path d="M249.6 101.8V117.8M247.8 101.8h3.5M247.8 117.8h3.5" stroke="#7a7a7a" stroke-width="0.7" fill="none"/>
<path d="M259.6 94.8V110.8M257.9 94.8h3.5M257.9 110.8h3.5" stroke="#7a7a7a" stroke-width="0.7" fill="none"/>
<path d="M268.8 87.8V103.8M267.1 87.8h3.5M267.1 103.8h3.5" stroke="#7a7a7a" stroke-width="0.7" fill="none"/>
<path d="M279.9 81.3V97.3M278.1 81.3h3.5M278.1 97.3h3.5" stroke="#7a7a7a" stroke-width="0.7" fill="none"/>
<path d="M299.6 73.5V89.5M297.9 73.5h3.5M297.9 89.5h3.5" stroke="#7a7a7a" stroke-width="0.7" fill="none"/>
<path d="M309.4 69.6V85.6M307.6 69.6h3.5M307.6 85.6h3.5" stroke="#7a7a7a" stroke-width="0.7" fill="none"/>
<path d="M319.9 67.4V83.4M318.1 67.4h3.5M318.1 83.4h3.5" stroke="#7a7a7a" stroke-width="0.7" fill="none"/>
<path d="M240.9 107.6V123.6M239.2 107.6h3.5M239.2 123.6h3.5" stroke="#7a7a7a" stroke-width="0.7" fill="none"/>
<polygon points="100.10,257.06 106.70,257.06 103.40,251.34" fill="#fff" stroke="#777" stroke-width="0.8"/>
<polygon points="122.30,237.86 128.90,237.86 125.60,232.14" fill="#fff" stroke="#777" stroke-width="0.8"/>
<polygon points="176.00,156.56 182.60,156.56 179.30,150.84" fill="#fff" stroke="#777" stroke-width="0.8"/>
<polygon points="144.20,193.36 150.80,193.36 147.50,187.64" fill="#fff" stroke="#777" stroke-width="0.8"/>
<polygon points="167.20,174.36 173.80,174.36 170.50,168.64" fill="#fff" stroke="#777" stroke-width="0.8"/>
<polygon points="193.70,143.36 200.30,143.36 197.00,137.64" fill="#fff" stroke="#777" stroke-width="0.8"/>
<polygon points="208.70,133.86 215.30,133.86 212.00,128.14" fill="#fff" stroke="#777" stroke-width="0.8"/>
<polygon points="281.70,79.86 288.30,79.86 285.00,74.14" fill="#fff" stroke="#777" stroke-width="0.8"/>
<polygon points="258.70,95.86 265.30,95.86 262.00,90.14" fill="#fff" stroke="#777" stroke-width="0.8"/>
<polygon points="85.20,264.86 91.80,264.86 88.50,259.14" fill="#fff" stroke="#777" stroke-width="0.8"/>
<circle cx="99.00" cy="258.00" r="2.2" fill="#fff" stroke="#555" stroke-width="0.7"/>
<circle cx="118.00" cy="246.00" r="2.2" fill="#fff" stroke="#555" stroke-width="0.7"/>
<circle cx="134.00" cy="214.00" r="2.2" fill="#fff" stroke="#555" stroke-width="0.7"/>
<circle cx="155.00" cy="196.00" r="2.2" fill="#fff" stroke="#555" stroke-width="0.7"/>
<circle cx="176.00" cy="164.00" r="2.2" fill="#fff" stroke="#555" stroke-width="0.7"/>
<circle cx="220.00" cy="125.00" r="2.2" fill="#fff" stroke="#555" stroke-width="0.7"/>
<circle cx="246.00" cy="104.00" r="2.2" fill="#fff" stroke="#555" stroke-width="0.7"/>
<circle cx="95.50" cy="286.00" r="2.2" fill="#fff" stroke="#555" stroke-width="0.7"/>
<circle cx="205.00" cy="150.00" r="2.2" fill="#fff" stroke="#555" stroke-width="0.7"/>
<rect x="201.00" y="105.20" width="5.6" height="5.6" fill="#eef2ff" stroke="#6a86d8" stroke-width="1.1"/>
<rect x="213.00" y="104.90" width="5.6" height="5.6" fill="#eef2ff" stroke="#6a86d8" stroke-width="1.1"/>
<rect x="225.40" y="102.20" width="5.6" height="5.6" fill="#eef2ff" stroke="#6a86d8" stroke-width="1.1"/>
<rect x="237.60" y="93.10" width="5.6" height="5.6" fill="#eef2ff" stroke="#6a86d8" stroke-width="1.1"/>
<rect x="249.80" y="86.40" width="5.6" height="5.6" fill="#eef2ff" stroke="#6a86d8" stroke-width="1.1"/>
<rect x="261.70" y="85.50" width="5.6" height="5.6" fill="#eef2ff" stroke="#6a86d8" stroke-width="1.1"/>
<rect x="238.10" y="92.50" width="5.6" height="5.6" fill="#eef2ff" stroke="#6a86d8" stroke-width="1.1"/>
<rect x="103.30" y="260.10" width="5.6" height="5.6" fill="#eef2ff" stroke="#6a86d8" stroke-width="1.1"/>
<rect x="92.70" y="267.20" width="5.6" height="5.6" fill="#eef2ff" stroke="#6a86d8" stroke-width="1.1"/>
<polygon points="95.10,250.82 100.70,250.82 97.90,245.98" fill="#9ab6ee" stroke="#5f7fcc" stroke-width="0.7"/>
<polygon points="103.90,229.62 109.50,229.62 106.70,224.78" fill="#9ab6ee" stroke="#5f7fcc" stroke-width="0.7"/>
<polygon points="112.50,215.52 118.10,215.52 115.30,210.68" fill="#9ab6ee" stroke="#5f7fcc" stroke-width="0.7"/>
<polygon points="120.80,210.02 126.40,210.02 123.60,205.18" fill="#9ab6ee" stroke="#5f7fcc" stroke-width="0.7"/>
<polygon points="129.00,204.82 134.60,204.82 131.80,199.98" fill="#9ab6ee" stroke="#5f7fcc" stroke-width="0.7"/>
<polygon points="140.40,188.02 146.00,188.02 143.20,183.18" fill="#9ab6ee" stroke="#5f7fcc" stroke-width="0.7"/>
<polygon points="145.10,181.72 150.70,181.72 147.90,176.88" fill="#9ab6ee" stroke="#5f7fcc" stroke-width="0.7"/>
<polygon points="153.80,170.42 159.40,170.42 156.60,165.58" fill="#9ab6ee" stroke="#5f7fcc" stroke-width="0.7"/>
<polygon points="163.40,163.02 169.00,163.02 166.20,158.18" fill="#9ab6ee" stroke="#5f7fcc" stroke-width="0.7"/>
<polygon points="170.40,152.02 176.00,152.02 173.20,147.18" fill="#9ab6ee" stroke="#5f7fcc" stroke-width="0.7"/>
<polygon points="188.90,130.92 194.50,130.92 191.70,126.08" fill="#9ab6ee" stroke="#5f7fcc" stroke-width="0.7"/>
<polygon points="196.50,122.72 202.10,122.72 199.30,117.88" fill="#9ab6ee" stroke="#5f7fcc" stroke-width="0.7"/>
<polygon points="204.70,115.92 210.30,115.92 207.50,111.08" fill="#9ab6ee" stroke="#5f7fcc" stroke-width="0.7"/>
<polygon points="213.20,114.92 218.80,114.92 216.00,110.08" fill="#9ab6ee" stroke="#5f7fcc" stroke-width="0.7"/>
<polygon points="229.60,108.32 235.20,108.32 232.40,103.48" fill="#9ab6ee" stroke="#5f7fcc" stroke-width="0.7"/>
<polygon points="238.50,105.62 244.10,105.62 241.30,100.78" fill="#9ab6ee" stroke="#5f7fcc" stroke-width="0.7"/>
<polygon points="89.70,271.92 95.30,271.92 92.50,267.08" fill="#9ab6ee" stroke="#5f7fcc" stroke-width="0.7"/>
<polygon points="128.70,204.52 134.30,204.52 131.50,199.68" fill="#9ab6ee" stroke="#5f7fcc" stroke-width="0.7"/>
<polygon points="140.00,189.32 145.60,189.32 142.80,184.48" fill="#9ab6ee" stroke="#5f7fcc" stroke-width="0.7"/>
<polygon points="145.30,181.72 150.90,181.72 148.10,176.88" fill="#9ab6ee" stroke="#5f7fcc" stroke-width="0.7"/>
<polygon points="128.40,213.20 129.73,216.77 133.54,216.93 130.56,219.30 131.57,222.97 128.40,220.87 125.23,222.97 126.24,219.30 123.26,216.93 127.07,216.77" fill="none" stroke="#7d6a60" stroke-width="1.9"/><polygon points="128.40,213.20 129.73,216.77 133.54,216.93 130.56,219.30 131.57,222.97 128.40,220.87 125.23,222.97 126.24,219.30 123.26,216.93 127.07,216.77" fill="#fffaf4" stroke="#eab79c" stroke-width="0.8"/>
<polygon points="162.40,203.00 163.73,206.57 167.54,206.73 164.56,209.10 165.57,212.77 162.40,210.67 159.23,212.77 160.24,209.10 157.26,206.73 161.07,206.57" fill="none" stroke="#7d6a60" stroke-width="1.9"/><polygon points="162.40,203.00 163.73,206.57 167.54,206.73 164.56,209.10 165.57,212.77 162.40,210.67 159.23,212.77 160.24,209.10 157.26,206.73 161.07,206.57" fill="#fffaf4" stroke="#eab79c" stroke-width="0.8"/>
<polygon points="193.00,110.10 194.33,113.67 198.14,113.83 195.16,116.20 196.17,119.87 193.00,117.77 189.83,119.87 190.84,116.20 187.86,113.83 191.67,113.67" fill="none" stroke="#7d6a60" stroke-width="1.9"/><polygon points="193.00,110.10 194.33,113.67 198.14,113.83 195.16,116.20 196.17,119.87 193.00,117.77 189.83,119.87 190.84,116.20 187.86,113.83 191.67,113.67" fill="#fffaf4" stroke="#eab79c" stroke-width="0.8"/>
<polygon points="161.50,147.21 169.10,147.21 165.30,153.79" fill="#fff" stroke="#9a7ae6" stroke-width="1.0"/>
<polygon points="244.60,146.21 252.20,146.21 248.40,152.79" fill="#fff" stroke="#9a7ae6" stroke-width="1.0"/>
<polygon points="286.70,96.41 294.30,96.41 290.50,102.99" fill="#fff" stroke="#9a7ae6" stroke-width="1.0"/>
<polygon points="119.20,257.51 126.80,257.51 123.00,264.09" fill="#fff" stroke="#9a7ae6" stroke-width="1.0"/>
<polygon points="131.00,249.70 136.33,253.57 134.29,259.83 127.71,259.83 125.67,253.57" fill="none" stroke="#6a5a55" stroke-width="2.1"/><polygon points="131.00,249.70 136.33,253.57 134.29,259.83 127.71,259.83 125.67,253.57" fill="#fff" stroke="#eca48e" stroke-width="1.1"/>
<polygon points="179.00,194.40 184.33,198.27 182.29,204.53 175.71,204.53 173.67,198.27" fill="none" stroke="#6a5a55" stroke-width="2.1"/><polygon points="179.00,194.40 184.33,198.27 182.29,204.53 175.71,204.53 173.67,198.27" fill="#fff" stroke="#eca48e" stroke-width="1.1"/>
<polygon points="227.50,173.90 232.83,177.77 230.79,184.03 224.21,184.03 222.17,177.77" fill="none" stroke="#6a5a55" stroke-width="2.1"/><polygon points="227.50,173.90 232.83,177.77 230.79,184.03 224.21,184.03 222.17,177.77" fill="#fff" stroke="#eca48e" stroke-width="1.1"/>
<path d="M94.8 268.5V293.0M88.8 268.5h12M88.8 293.0h12" stroke="#111" stroke-width="1.3" fill="none"/>
<path d="M115.0 219.2V256.0M110.0 219.2h10M110.0 256.0h10" stroke="#111" stroke-width="1.3" fill="none"/>
<path d="M137.6 194.2V248.5M132.1 194.2h11M132.1 248.5h11" stroke="#111" stroke-width="1.3" fill="none"/>
<path d="M160.3 157.0V228.0M154.8 157.0h11M154.8 228.0h11" stroke="#111" stroke-width="1.3" fill="none"/>
<path d="M181.6 141.8V198.9M176.6 141.8h10M176.6 198.9h10" stroke="#111" stroke-width="1.3" fill="none"/>
<path d="M201.9 116.0V206.3M195.9 116.0h12M195.9 206.3h12" stroke="#111" stroke-width="1.3" fill="none"/>
<path d="M224.8 107.9V147.3M219.3 107.9h11M219.3 147.3h11" stroke="#111" stroke-width="1.3" fill="none"/>
<path d="M249.2 72.1V174.0M243.2 72.1h12M243.2 174.0h12" stroke="#111" stroke-width="1.3" fill="none"/>
<path d="M271.4 76.6V134.6M265.4 76.6h12M265.4 134.6h12" stroke="#111" stroke-width="1.3" fill="none"/>
<path d="M294.0 77.0V98.0M288.0 77.0h12M288.0 98.0h12" stroke="#111" stroke-width="1.3" fill="none"/>
<path d="M314.1 72.6V84.8M308.1 72.6h12M308.1 84.8h12" stroke="#111" stroke-width="1.3" fill="none"/>
<path d="M111.2 262.0V291.1M105.7 262.0h11M105.7 291.1h11" stroke="#111" stroke-width="1.3" fill="none"/>
<path d="M152.4 175.8V196.0M147.9 175.8h9M147.9 196.0h9" stroke="#111" stroke-width="1.3" fill="none"/>
<path d="M89.5 275.7H100.5M89.5 269.7v12M100.5 269.7v12" stroke="#111" stroke-width="1.3" fill="none"/>
<path d="M108.0 237.4H121.9M108.0 231.4v12M121.9 231.4v12" stroke="#111" stroke-width="1.3" fill="none"/>
<path d="M128.8 221.9H143.7M128.8 216.9v10M143.7 216.9v10" stroke="#111" stroke-width="1.3" fill="none"/>
<path d="M153.1 191.8H166.2M153.1 186.8v10M166.2 186.8v10" stroke="#111" stroke-width="1.3" fill="none"/>
<path d="M174.1 171.0H188.1M174.1 166.0v10M188.1 166.0v10" stroke="#111" stroke-width="1.3" fill="none"/>
<path d="M196.1 160.8H208.9M196.1 155.8v10M208.9 155.8v10" stroke="#111" stroke-width="1.3" fill="none"/>
<path d="M265.9 101.5H277.6M265.9 96.0v11M277.6 96.0v11" stroke="#111" stroke-width="1.3" fill="none"/>
<path d="M288.7 87.1H300.6M288.7 81.1v12M300.6 81.1v12" stroke="#111" stroke-width="1.3" fill="none"/>
<path d="M308.0 78.7H319.9M308.0 72.7v12M319.9 72.7v12" stroke="#111" stroke-width="1.3" fill="none"/>
<path d="M218.5 127.3H231.5M218.5 122.3v10M231.5 122.3v10" stroke="#111" stroke-width="1.3" fill="none"/>
<path d="M243.5 123.4H255.5M243.5 117.4v12M255.5 117.4v12" stroke="#111" stroke-width="1.3" fill="none"/>
<rect x="288.0" y="76.8" width="12.2" height="21.5" rx="1.5" fill="none" stroke="#111" stroke-width="1.4"/>
<rect x="307.6" y="71.4" width="12.7" height="13.5" rx="1.5" fill="none" stroke="#111" stroke-width="1.4"/>
<polygon points="280.60,70.60 281.74,73.64 284.97,73.78 282.44,75.80 283.30,78.92 280.60,77.13 277.90,78.92 278.76,75.80 276.23,73.78 279.46,73.64" fill="#f4f4f4" stroke="#999" stroke-width="0.9"/>
<rect x="88.40" y="252.70" width="5.8" height="5.8" fill="#a8d89a" stroke="#333" stroke-width="0.8"/>
<rect x="108.50" y="240.80" width="5.8" height="5.8" fill="#a8d89a" stroke="#333" stroke-width="0.8"/>
<rect x="118.40" y="224.70" width="5.8" height="5.8" fill="#a8d89a" stroke="#333" stroke-width="0.8"/>
<rect x="138.70" y="219.50" width="5.8" height="5.8" fill="#a8d89a" stroke="#333" stroke-width="0.8"/>
<rect x="148.10" y="204.10" width="5.8" height="5.8" fill="#a8d89a" stroke="#333" stroke-width="0.8"/>
<rect x="157.20" y="198.60" width="5.8" height="5.8" fill="#a8d89a" stroke="#333" stroke-width="0.8"/>
<rect x="167.20" y="181.70" width="5.8" height="5.8" fill="#a8d89a" stroke="#333" stroke-width="0.8"/>
<rect x="187.30" y="155.50" width="5.8" height="5.8" fill="#a8d89a" stroke="#333" stroke-width="0.8"/>
<rect x="196.70" y="145.70" width="5.8" height="5.8" fill="#a8d89a" stroke="#333" stroke-width="0.8"/>
<rect x="207.70" y="136.10" width="5.8" height="5.8" fill="#a8d89a" stroke="#333" stroke-width="0.8"/>
<rect x="216.80" y="128.20" width="5.8" height="5.8" fill="#a8d89a" stroke="#333" stroke-width="0.8"/>
<rect x="226.40" y="119.40" width="5.8" height="5.8" fill="#a8d89a" stroke="#333" stroke-width="0.8"/>
<rect x="236.60" y="112.90" width="5.8" height="5.8" fill="#a8d89a" stroke="#333" stroke-width="0.8"/>
<rect x="246.70" y="105.90" width="5.8" height="5.8" fill="#a8d89a" stroke="#333" stroke-width="0.8"/>
<rect x="256.70" y="98.90" width="5.8" height="5.8" fill="#a8d89a" stroke="#333" stroke-width="0.8"/>
<rect x="265.90" y="91.90" width="5.8" height="5.8" fill="#a8d89a" stroke="#333" stroke-width="0.8"/>
<rect x="277.00" y="85.40" width="5.8" height="5.8" fill="#a8d89a" stroke="#333" stroke-width="0.8"/>
<rect x="296.70" y="77.60" width="5.8" height="5.8" fill="#a8d89a" stroke="#333" stroke-width="0.8"/>
<rect x="306.50" y="73.70" width="5.8" height="5.8" fill="#a8d89a" stroke="#333" stroke-width="0.8"/>
<rect x="317.00" y="71.50" width="5.8" height="5.8" fill="#a8d89a" stroke="#333" stroke-width="0.8"/>
<rect x="238.00" y="111.70" width="5.8" height="5.8" fill="#a8d89a" stroke="#333" stroke-width="0.8"/>
<circle cx="102.20" cy="262.60" r="3.4" fill="#fbbf22" stroke="#333" stroke-width="0.8"/>
<circle cx="111.90" cy="253.50" r="3.4" fill="#fbbf22" stroke="#333" stroke-width="0.8"/>
<circle cx="122.30" cy="251.80" r="3.4" fill="#fbbf22" stroke="#333" stroke-width="0.8"/>
<circle cx="132.30" cy="222.70" r="3.4" fill="#fbbf22" stroke="#333" stroke-width="0.8"/>
<circle cx="142.80" cy="201.50" r="3.4" fill="#fbbf22" stroke="#333" stroke-width="0.8"/>
<circle cx="152.40" cy="182.80" r="3.4" fill="#fbbf22" stroke="#333" stroke-width="0.8"/>
<circle cx="163.10" cy="174.10" r="3.4" fill="#fbbf22" stroke="#333" stroke-width="0.8"/>
<circle cx="172.90" cy="163.60" r="3.4" fill="#fbbf22" stroke="#333" stroke-width="0.8"/>
<circle cx="183.40" cy="152.60" r="3.4" fill="#fbbf22" stroke="#333" stroke-width="0.8"/>
<circle cx="193.40" cy="144.70" r="3.4" fill="#fbbf22" stroke="#333" stroke-width="0.8"/>
<circle cx="204.00" cy="140.70" r="3.4" fill="#fbbf22" stroke="#333" stroke-width="0.8"/>
<circle cx="214.10" cy="135.80" r="3.4" fill="#fbbf22" stroke="#333" stroke-width="0.8"/>
<circle cx="234.60" cy="120.60" r="3.4" fill="#fbbf22" stroke="#333" stroke-width="0.8"/>
<circle cx="244.30" cy="110.60" r="3.4" fill="#fbbf22" stroke="#333" stroke-width="0.8"/>
<circle cx="254.90" cy="102.90" r="3.4" fill="#fbbf22" stroke="#333" stroke-width="0.8"/>
<circle cx="264.50" cy="97.10" r="3.4" fill="#fbbf22" stroke="#333" stroke-width="0.8"/>
<circle cx="275.00" cy="91.00" r="3.4" fill="#fbbf22" stroke="#333" stroke-width="0.8"/>
<circle cx="284.70" cy="87.60" r="3.4" fill="#fbbf22" stroke="#333" stroke-width="0.8"/>
<circle cx="294.90" cy="83.10" r="3.4" fill="#fbbf22" stroke="#333" stroke-width="0.8"/>
<circle cx="304.50" cy="78.40" r="3.4" fill="#fbbf22" stroke="#333" stroke-width="0.8"/>
<circle cx="315.00" cy="74.40" r="3.4" fill="#fbbf22" stroke="#333" stroke-width="0.8"/>
<circle cx="325.20" cy="69.80" r="3.4" fill="#fbbf22" stroke="#333" stroke-width="0.8"/>
<path d="M90.20 271.10L99.40 280.30M90.20 280.30L99.40 271.10" stroke="#e8262a" stroke-width="1.4" fill="none"/>
<path d="M110.40 232.60L119.60 241.80M110.40 241.80L119.60 232.60" stroke="#e8262a" stroke-width="1.4" fill="none"/>
<path d="M133.00 217.30L142.20 226.50M133.00 226.50L142.20 217.30" stroke="#e8262a" stroke-width="1.4" fill="none"/>
<path d="M155.10 187.20L164.30 196.40M155.10 196.40L164.30 187.20" stroke="#e8262a" stroke-width="1.4" fill="none"/>
<path d="M177.00 166.20L186.20 175.40M177.00 175.40L186.20 166.20" stroke="#e8262a" stroke-width="1.4" fill="none"/>
<path d="M197.00 156.50L206.20 165.70M197.00 165.70L206.20 156.50" stroke="#e8262a" stroke-width="1.4" fill="none"/>
<path d="M220.20 122.70L229.40 131.90M220.20 131.90L229.40 122.70" stroke="#e8262a" stroke-width="1.4" fill="none"/>
<path d="M244.80 118.80L254.00 128.00M244.80 128.00L254.00 118.80" stroke="#e8262a" stroke-width="1.4" fill="none"/>
<path d="M266.50 101.20L275.70 110.40M266.50 110.40L275.70 101.20" stroke="#e8262a" stroke-width="1.4" fill="none"/>
<path d="M289.40 82.50L298.60 91.70M289.40 91.70L298.60 82.50" stroke="#e8262a" stroke-width="1.4" fill="none"/>
<path d="M309.50 74.10L318.70 83.30M309.50 83.30L318.70 74.10" stroke="#e8262a" stroke-width="1.4" fill="none"/>
</g>
<g clip-path="url(#cr)">
<path d="M541 219V276" stroke="#f6c0aa" stroke-width="0.9"/>
<path d="M581.3 219V242" stroke="#f6c0aa" stroke-width="0.9"/>
<path d="M604.7 239V260" stroke="#f6c0aa" stroke-width="0.9"/>
<path d="M489.6 170.7V178.6" stroke="#f6c0aa" stroke-width="0.9"/>
<path d="M531.5 219V249.2" stroke="#d0c0f4" stroke-width="0.9"/>
<path d="M438.6 117.6V134.2" stroke="#b4c6f2" stroke-width="0.9"/>
<path d="M460.5 122.9V141.2" stroke="#b4c6f2" stroke-width="0.9"/>
<path d="M478.7 107V120" stroke="#b4c6f2" stroke-width="0.9"/>
<path d="M502.3 116.6V129.7" stroke="#b4c6f2" stroke-width="0.9"/>
<path d="M519.3 128V140.2" stroke="#b4c6f2" stroke-width="0.9"/>
<path d="M675 230V300" stroke="#b4c6f2" stroke-width="0.9"/>
<path d="M680 225V290" stroke="#b4c6f2" stroke-width="0.9"/>
<path d="M665 260V325" stroke="#b4c6f2" stroke-width="0.9"/>
<path d="M684 240V300" stroke="#b4c6f2" stroke-width="0.9"/>
<path d="M425.0 30.4 L428.8 33.7 L432.7 37.0 L436.5 40.4 L440.4 43.7 L444.2 47.0 L448.0 50.4 L451.9 53.7 L455.7 57.1 L459.6 60.5 L463.4 63.9 L467.2 67.4 L471.1 70.8 L474.9 74.3 L478.8 77.8 L482.6 81.3 L486.4 84.8 L490.3 88.3 L494.1 91.8 L498.0 95.4 L501.8 98.9 L505.7 102.5 L509.5 106.1 L513.3 109.7 L517.2 113.3 L521.0 117.0 L524.9 120.8 L528.7 124.7 L532.5 128.5 L536.4 132.4 L540.2 136.3 L544.1 140.3 L547.9 144.2 L551.7 148.2 L555.6 152.3 L559.4 156.4 L563.3 160.5 L567.1 164.6 L570.9 168.8 L574.8 173.1 L578.6 177.4 L582.5 181.7 L586.3 186.1 L590.1 190.6 L594.0 195.1 L597.8 199.7 L601.7 204.3 L605.5 208.9 L609.3 213.6 L613.2 218.4 L617.0 223.3 L620.9 228.2 L624.7 233.3 L628.6 238.4 L632.4 243.6 L636.2 248.8 L640.1 254.2 L643.9 259.7 L647.8 265.2 L651.6 270.9 L655.4 276.7 L659.3 282.5 L663.1 288.5 L667.0 294.5 L670.8 300.7 L674.6 307.0 L678.5 313.4 L682.3 319.9 L686.2 326.5 L690.0 333.2 L690.0 339.8 L686.2 333.2 L682.3 326.8 L678.5 320.5 L674.6 314.3 L670.8 308.3 L667.0 302.3 L663.1 296.4 L659.3 290.7 L655.4 285.0 L651.6 279.5 L647.8 274.0 L643.9 268.6 L640.1 263.4 L636.2 258.2 L632.4 253.1 L628.6 248.3 L624.7 243.7 L620.9 239.3 L617.0 234.9 L613.2 230.5 L609.3 226.3 L605.5 222.1 L601.7 218.0 L597.8 214.0 L594.0 209.9 L590.1 205.9 L586.3 202.0 L582.5 198.2 L578.6 194.4 L574.8 190.6 L570.9 186.9 L567.1 183.2 L563.3 179.4 L559.4 175.4 L555.6 171.4 L551.7 167.4 L547.9 163.5 L544.1 159.5 L540.2 155.0 L536.4 150.6 L532.5 146.2 L528.7 141.8 L524.9 137.5 L521.0 133.2 L517.2 129.0 L513.3 125.0 L509.5 121.0 L505.7 116.9 L501.8 112.9 L498.0 109.1 L494.1 105.5 L490.3 101.8 L486.4 98.2 L482.6 94.6 L478.8 91.0 L474.9 87.4 L471.1 83.8 L467.2 80.2 L463.4 76.7 L459.6 73.1 L455.7 69.6 L451.9 66.1 L448.0 62.5 L444.2 59.0 L440.4 55.5 L436.5 52.0 L432.7 48.5 L428.8 45.0 L425.0 41.5Z" fill="#c6c6c6" stroke="#a8a8a8" stroke-width="0.6"/>
<path d="M425.0 31.7 L428.8 35.1 L432.7 38.4 L436.5 41.8 L440.4 45.1 L444.2 48.5 L448.0 51.8 L451.9 55.2 L455.7 58.6 L459.6 62.0 L463.4 65.4 L467.2 68.9 L471.1 72.4 L474.9 75.9 L478.8 79.4 L482.6 82.9 L486.4 86.4 L490.3 89.9 L494.1 93.5 L498.0 97.0 L501.8 100.6 L505.7 104.2 L509.5 107.9 L513.3 111.5 L517.2 115.2 L521.0 119.0 L524.9 122.8 L528.7 126.7 L532.5 130.6 L536.4 134.6 L540.2 138.6 L544.1 142.6 L547.9 146.5 L551.7 150.5 L555.6 154.6 L559.4 158.6 L563.3 162.7 L567.1 166.9 L570.9 171.0 L574.8 175.2 L578.6 179.4 L582.5 183.7 L586.3 188.0 L590.1 192.4 L594.0 196.9 L597.8 201.4 L601.7 205.9 L605.5 210.5 L609.3 215.2 L613.2 219.9 L617.0 224.7 L620.9 229.6 L624.7 234.5 L628.6 239.6 L632.4 244.7 L636.2 250.0 L640.1 255.3 L643.9 260.8 L647.8 266.3 L651.6 271.9 L655.4 277.7 L659.3 283.5 L663.1 289.4 L667.0 295.5 L670.8 301.6 L674.6 307.9 L678.5 314.3 L682.3 320.7 L686.2 327.3 L690.0 334.0" fill="none" stroke="#9c9c9c" stroke-width="0.6"/>
<path d="M425.0 33.2 L428.8 36.5 L432.7 39.9 L436.5 43.3 L440.4 46.7 L444.2 50.0 L448.0 53.4 L451.9 56.8 L455.7 60.2 L459.6 63.6 L463.4 67.1 L467.2 70.6 L471.1 74.1 L474.9 77.6 L478.8 81.1 L482.6 84.6 L486.4 88.1 L490.3 91.7 L494.1 95.2 L498.0 98.8 L501.8 102.4 L505.7 106.1 L509.5 109.8 L513.3 113.5 L517.2 117.3 L521.0 121.1 L524.9 125.0 L528.7 129.0 L532.5 132.9 L536.4 137.0 L540.2 141.0 L544.1 145.1 L547.9 149.1 L551.7 153.0 L555.6 157.1 L559.4 161.1 L563.3 165.2 L567.1 169.3 L570.9 173.3 L574.8 177.5 L578.6 181.6 L582.5 185.8 L586.3 190.1 L590.1 194.4 L594.0 198.8 L597.8 203.2 L601.7 207.7 L605.5 212.2 L609.3 216.8 L613.2 221.5 L617.0 226.2 L620.9 231.0 L624.7 235.9 L628.6 240.8 L632.4 246.0 L636.2 251.2 L640.1 256.5 L643.9 261.9 L647.8 267.4 L651.6 273.0 L655.4 278.7 L659.3 284.6 L663.1 290.5 L667.0 296.5 L670.8 302.6 L674.6 308.8 L678.5 315.2 L682.3 321.6 L686.2 328.2 L690.0 334.9" fill="none" stroke="#8c8c8c" stroke-width="0.6"/>
<path d="M425.0 34.6 L428.8 38.0 L432.7 41.4 L436.5 44.8 L440.4 48.2 L444.2 51.6 L448.0 55.0 L451.9 58.4 L455.7 61.9 L459.6 65.3 L463.4 68.8 L467.2 72.3 L471.1 75.8 L474.9 79.3 L478.8 82.8 L482.6 86.3 L486.4 89.9 L490.3 93.4 L494.1 97.0 L498.0 100.6 L501.8 104.3 L505.7 108.0 L509.5 111.7 L513.3 115.5 L517.2 119.3 L521.0 123.2 L524.9 127.2 L528.7 131.2 L532.5 135.2 L536.4 139.3 L540.2 143.4 L544.1 147.6 L547.9 151.6 L551.7 155.5 L555.6 159.5 L559.4 163.6 L563.3 167.7 L567.1 171.7 L570.9 175.7 L574.8 179.7 L578.6 183.8 L582.5 188.0 L586.3 192.2 L590.1 196.4 L594.0 200.7 L597.8 205.1 L601.7 209.5 L605.5 213.9 L609.3 218.5 L613.2 223.0 L617.0 227.7 L620.9 232.4 L624.7 237.2 L628.6 242.1 L632.4 247.2 L636.2 252.4 L640.1 257.7 L643.9 263.1 L647.8 268.6 L651.6 274.1 L655.4 279.8 L659.3 285.6 L663.1 291.5 L667.0 297.5 L670.8 303.6 L674.6 309.8 L678.5 316.1 L682.3 322.5 L686.2 329.1 L690.0 335.7" fill="none" stroke="#949494" stroke-width="0.6"/>
<path d="M425.0 36.0 L428.8 39.4 L432.7 42.8 L436.5 46.2 L440.4 49.6 L444.2 53.0 L448.0 56.5 L451.9 59.9 L455.7 63.3 L459.6 66.8 L463.4 70.3 L467.2 73.8 L471.1 77.3 L474.9 80.8 L478.8 84.4 L482.6 87.9 L486.4 91.5 L490.3 95.1 L494.1 98.6 L498.0 102.2 L501.8 105.9 L505.7 109.7 L509.5 113.5 L513.3 117.3 L517.2 121.2 L521.0 125.1 L524.9 129.2 L528.7 133.3 L532.5 137.4 L536.4 141.5 L540.2 145.7 L544.1 149.9 L547.9 153.9 L551.7 157.8 L555.6 161.8 L559.4 165.9 L563.3 169.9 L567.1 173.9 L570.9 177.9 L574.8 181.8 L578.6 185.9 L582.5 189.9 L586.3 194.1 L590.1 198.3 L594.0 202.5 L597.8 206.8 L601.7 211.2 L605.5 215.5 L609.3 220.0 L613.2 224.5 L617.0 229.1 L620.9 233.7 L624.7 238.5 L628.6 243.3 L632.4 248.3 L636.2 253.5 L640.1 258.8 L643.9 264.2 L647.8 269.6 L651.6 275.2 L655.4 280.8 L659.3 286.6 L663.1 292.5 L667.0 298.4 L670.8 304.5 L674.6 310.7 L678.5 317.0 L682.3 323.4 L686.2 329.9 L690.0 336.5" fill="none" stroke="#828282" stroke-width="0.6"/>
<path d="M425.0 37.3 L428.8 40.7 L432.7 44.1 L436.5 47.6 L440.4 51.0 L444.2 54.5 L448.0 57.9 L451.9 61.4 L455.7 64.8 L459.6 68.3 L463.4 71.8 L467.2 75.3 L471.1 78.9 L474.9 82.4 L478.8 86.0 L482.6 89.5 L486.4 93.1 L490.3 96.7 L494.1 100.3 L498.0 103.9 L501.8 107.6 L505.7 111.5 L509.5 115.3 L513.3 119.2 L517.2 123.1 L521.0 127.0 L524.9 131.2 L528.7 135.3 L532.5 139.5 L536.4 143.7 L540.2 147.9 L544.1 152.2 L547.9 156.2 L551.7 160.1 L555.6 164.1 L559.4 168.1 L563.3 172.2 L567.1 176.1 L570.9 180.0 L574.8 183.9 L578.6 187.9 L582.5 191.9 L586.3 196.0 L590.1 200.1 L594.0 204.3 L597.8 208.5 L601.7 212.8 L605.5 217.1 L609.3 221.5 L613.2 225.9 L617.0 230.5 L620.9 235.1 L624.7 239.7 L628.6 244.5 L632.4 249.5 L636.2 254.7 L640.1 259.9 L643.9 265.2 L647.8 270.7 L651.6 276.2 L655.4 281.8 L659.3 287.6 L663.1 293.4 L667.0 299.4 L670.8 305.4 L674.6 311.6 L678.5 317.8 L682.3 324.2 L686.2 330.7 L690.0 337.3" fill="none" stroke="#909090" stroke-width="0.6"/>
<path d="M425.0 38.7 L428.8 42.2 L432.7 45.6 L436.5 49.1 L440.4 52.6 L444.2 56.0 L448.0 59.5 L451.9 63.0 L455.7 66.5 L459.6 70.0 L463.4 73.5 L467.2 77.0 L471.1 80.6 L474.9 84.1 L478.8 87.7 L482.6 91.3 L486.4 94.8 L490.3 98.4 L494.1 102.1 L498.0 105.7 L501.8 109.4 L505.7 113.3 L509.5 117.2 L513.3 121.2 L517.2 125.1 L521.0 129.1 L524.9 133.3 L528.7 137.5 L532.5 141.8 L536.4 146.1 L540.2 150.4 L544.1 154.7 L547.9 158.7 L551.7 162.6 L555.6 166.6 L559.4 170.6 L563.3 174.7 L567.1 178.6 L570.9 182.4 L574.8 186.2 L578.6 190.1 L582.5 194.1 L586.3 198.1 L590.1 202.1 L594.0 206.2 L597.8 210.4 L601.7 214.6 L605.5 218.8 L609.3 223.1 L613.2 227.5 L617.0 232.0 L620.9 236.5 L624.7 241.1 L628.6 245.8 L632.4 250.7 L636.2 255.9 L640.1 261.1 L643.9 266.4 L647.8 271.8 L651.6 277.3 L655.4 282.9 L659.3 288.6 L663.1 294.4 L667.0 300.4 L670.8 306.4 L674.6 312.5 L678.5 318.8 L682.3 325.1 L686.2 331.6 L690.0 338.1" fill="none" stroke="#989898" stroke-width="0.6"/>
<path d="M425.0 40.2 L428.8 43.7 L432.7 47.1 L436.5 50.6 L440.4 54.1 L444.2 57.6 L448.0 61.1 L451.9 64.6 L455.7 68.1 L459.6 71.6 L463.4 75.2 L467.2 78.7 L471.1 82.3 L474.9 85.8 L478.8 89.4 L482.6 93.0 L486.4 96.6 L490.3 100.2 L494.1 103.8 L498.0 107.5 L501.8 111.3 L505.7 115.2 L509.5 119.2 L513.3 123.2 L517.2 127.2 L521.0 131.2 L524.9 135.5 L528.7 139.8 L532.5 144.1 L536.4 148.4 L540.2 152.8 L544.1 157.2 L547.9 161.2 L551.7 165.1 L555.6 169.1 L559.4 173.1 L563.3 177.1 L567.1 181.0 L570.9 184.7 L574.8 188.5 L578.6 192.3 L582.5 196.2 L586.3 200.1 L590.1 204.1 L594.0 208.1 L597.8 212.3 L601.7 216.4 L605.5 220.6 L609.3 224.8 L613.2 229.1 L617.0 233.5 L620.9 237.9 L624.7 242.5 L628.6 247.1 L632.4 252.0 L636.2 257.1 L640.1 262.3 L643.9 267.6 L647.8 272.9 L651.6 278.4 L655.4 284.0 L659.3 289.7 L663.1 295.5 L667.0 301.4 L670.8 307.4 L674.6 313.5 L678.5 319.7 L682.3 326.0 L686.2 332.4 L690.0 339.0" fill="none" stroke="#a4a4a4" stroke-width="0.6"/>
<path d="M425.0 33.0 L428.8 36.4 L432.7 39.9 L436.5 43.3 L440.4 46.7 L444.2 50.1 L448.0 53.6 L451.9 57.0 L455.7 60.5 L459.6 64.0 L463.4 67.4 L467.2 70.9 L471.1 74.4 L474.9 77.9 L478.8 81.4 L482.6 84.9 L486.4 88.5 L490.3 92.0 L494.1 95.6 L498.0 99.2 L501.8 102.8 L505.7 106.4 L509.5 110.0 L513.3 113.7 L517.2 117.3 L521.0 121.0 L524.9 124.7 L528.7 128.5 L532.5 132.2 L536.4 136.0 L540.2 139.8 L544.1 143.7 L547.9 147.5 L551.7 151.4 L555.6 155.4 L559.4 159.4 L563.3 163.4 L567.1 167.4 L570.9 171.6 L574.8 175.7 L578.6 179.9 L582.5 184.2 L586.3 188.5 L590.1 192.8 L594.0 197.2 L597.8 201.7 L601.7 206.3 L605.5 210.9 L609.3 215.6 L613.2 220.3 L617.0 225.1 L620.9 230.0 L624.7 235.0 L628.6 240.1 L632.4 245.2 L636.2 250.5 L640.1 255.8 L643.9 261.2 L647.8 266.8 L651.6 272.4 L655.4 278.1 L659.3 283.9 L663.1 289.8 L667.0 295.9 L670.8 302.0 L674.6 308.3 L678.5 314.6 L682.3 321.1 L686.2 327.7 L690.0 334.3" fill="none" stroke="#505050" stroke-width="0.9"/>
<circle cx="476.00" cy="80.00" r="1.35" fill="#d42a2a" stroke="#7a1515" stroke-width="0.5"/>
<circle cx="493.20" cy="96.00" r="1.35" fill="#d42a2a" stroke="#7a1515" stroke-width="0.5"/>
<circle cx="499.50" cy="99.90" r="1.35" fill="#d42a2a" stroke="#7a1515" stroke-width="0.5"/>
<circle cx="516.20" cy="115.60" r="1.35" fill="#d42a2a" stroke="#7a1515" stroke-width="0.5"/>
<circle cx="516.80" cy="117.80" r="1.35" fill="#d42a2a" stroke="#7a1515" stroke-width="0.5"/>
<circle cx="528.80" cy="128.60" r="1.35" fill="#d42a2a" stroke="#7a1515" stroke-width="0.5"/>
<circle cx="533.50" cy="132.20" r="1.35" fill="#d42a2a" stroke="#7a1515" stroke-width="0.5"/>
<circle cx="540.10" cy="138.30" r="1.35" fill="#d42a2a" stroke="#7a1515" stroke-width="0.5"/>
<circle cx="546.40" cy="145.80" r="1.35" fill="#d42a2a" stroke="#7a1515" stroke-width="0.5"/>
<circle cx="548.60" cy="151.30" r="1.35" fill="#d42a2a" stroke="#7a1515" stroke-width="0.5"/>
<circle cx="551.30" cy="152.20" r="1.35" fill="#d42a2a" stroke="#7a1515" stroke-width="0.5"/>
<circle cx="556.50" cy="155.20" r="1.35" fill="#d42a2a" stroke="#7a1515" stroke-width="0.5"/>
<circle cx="557.20" cy="158.40" r="1.35" fill="#d42a2a" stroke="#7a1515" stroke-width="0.5"/>
<circle cx="566.00" cy="169.40" r="1.35" fill="#d42a2a" stroke="#7a1515" stroke-width="0.5"/>
<circle cx="569.70" cy="169.80" r="1.35" fill="#d42a2a" stroke="#7a1515" stroke-width="0.5"/>
<circle cx="574.00" cy="173.90" r="1.35" fill="#d42a2a" stroke="#7a1515" stroke-width="0.5"/>
<circle cx="579.20" cy="181.10" r="1.35" fill="#d42a2a" stroke="#7a1515" stroke-width="0.5"/>
<circle cx="590.00" cy="192.66" r="1.35" fill="#d42a2a" stroke="#7a1515" stroke-width="0.5"/>
<circle cx="600.00" cy="204.29" r="1.35" fill="#d42a2a" stroke="#7a1515" stroke-width="0.5"/>
<circle cx="612.00" cy="218.83" r="1.35" fill="#d42a2a" stroke="#7a1515" stroke-width="0.5"/>
<circle cx="622.00" cy="231.49" r="1.35" fill="#d42a2a" stroke="#7a1515" stroke-width="0.5"/>
<circle cx="632.00" cy="244.71" r="1.35" fill="#d42a2a" stroke="#7a1515" stroke-width="0.5"/>
<circle cx="642.00" cy="258.52" r="1.35" fill="#d42a2a" stroke="#7a1515" stroke-width="0.5"/>
<circle cx="652.00" cy="272.98" r="1.35" fill="#d42a2a" stroke="#7a1515" stroke-width="0.5"/>
<circle cx="662.00" cy="288.12" r="1.35" fill="#d42a2a" stroke="#7a1515" stroke-width="0.5"/>
<circle cx="672.00" cy="303.96" r="1.35" fill="#d42a2a" stroke="#7a1515" stroke-width="0.5"/>
<circle cx="682.00" cy="320.54" r="1.35" fill="#d42a2a" stroke="#7a1515" stroke-width="0.5"/>
<path d="M448.2 56.5V188.1M442.7 56.5h11M442.7 188.1h11" stroke="#a8a8a8" stroke-width="1.0" fill="none"/>
<path d="M443.0 130V188.1" stroke="#555" stroke-width="0.7"/>
<path d="M466.0 144.7V210" stroke="#999" stroke-width="0.7"/>
<path d="M474.4 182.9V211.7" stroke="#aaa" stroke-width="0.7"/>
<path d="M477.0 155V207.4" stroke="#aaa" stroke-width="0.7"/>
<path d="M491.9 114.9V160" stroke="#aaa" stroke-width="0.7"/>
<path d="M501.5 142.8V176" stroke="#888" stroke-width="0.7"/>
<path d="M515.1 145.5V170" stroke="#888" stroke-width="0.7"/>
<path d="M495.9 135V165" stroke="#aaa" stroke-width="0.7"/>
<path d="M507 142V165" stroke="#aaa" stroke-width="0.7"/>
<path d="M512.0 180.0V218.8M506.1 180.0h11.8M506.1 218.8h11.8" stroke="#999" stroke-width="1.0" fill="none"/>
<path d="M530.3 190.0V200.4M524.9 190.0h10.8M524.9 200.4h10.8" stroke="#444" stroke-width="1.0" fill="none"/>
<path d="M552.3 197.6V212.0M547.3 197.6h10M547.3 212.0h10" stroke="#777" stroke-width="1.0" fill="none"/>
<path d="M490.4 140.4V168.3" stroke="#222" stroke-width="0.7"/>
<path d="M489.0 140.4V168.3" stroke="#222" stroke-width="0.7"/>
<path d="M545 175V195" stroke="#999" stroke-width="0.7"/>
<path d="M549 176V200" stroke="#999" stroke-width="0.7"/>
<path d="M558 178V196" stroke="#999" stroke-width="0.7"/>
<path d="M573 185V205" stroke="#999" stroke-width="0.7"/>
<path d="M579 190V210" stroke="#999" stroke-width="0.7"/>
<path d="M586 195V215" stroke="#999" stroke-width="0.7"/>
<path d="M598 205V225" stroke="#888" stroke-width="0.7"/>
<path d="M606 212V232" stroke="#888" stroke-width="0.7"/>
<path d="M611 218V240" stroke="#888" stroke-width="0.7"/>
<path d="M623 238V260" stroke="#888" stroke-width="0.7"/>
<path d="M632 250V280" stroke="#888" stroke-width="0.7"/>
<path d="M652 270V325" stroke="#777" stroke-width="0.7"/>
<path d="M662 265V325" stroke="#777" stroke-width="0.7"/>
<path d="M670.4 280V325" stroke="#555" stroke-width="0.7"/>
<path d="M658 280V325" stroke="#888" stroke-width="0.7"/>
<path d="M640.3 298V312" stroke="#555" stroke-width="0.7"/>
<path d="M522.0 183.1V203.0" stroke="#5a5a5a" stroke-width="0.6"/>
<path d="M524.0 181.9V197.1" stroke="#5a5a5a" stroke-width="0.6"/>
<path d="M526.1 187.2V199.7" stroke="#777" stroke-width="0.6"/>
<path d="M527.6 187.3V197.1" stroke="#777" stroke-width="0.6"/>
<path d="M529.2 186.6V204.5" stroke="#444" stroke-width="0.6"/>
<path d="M530.5 181.6V195.6" stroke="#444" stroke-width="0.6"/>
<path d="M531.7 186.8V203.3" stroke="#777" stroke-width="0.6"/>
<path d="M533.6 177.3V193.0" stroke="#777" stroke-width="0.6"/>
<path d="M535.1 176.0V196.1" stroke="#777" stroke-width="0.6"/>
<path d="M536.4 174.7V190.8" stroke="#444" stroke-width="0.6"/>
<path d="M537.8 178.2V189.1" stroke="#777" stroke-width="0.6"/>
<path d="M539.2 177.2V195.6" stroke="#5a5a5a" stroke-width="0.6"/>
<path d="M540.9 172.5V185.0" stroke="#8a8a8a" stroke-width="0.6"/>
<path d="M542.9 172.5V186.1" stroke="#444" stroke-width="0.6"/>
<path d="M544.6 174.0V184.5" stroke="#5a5a5a" stroke-width="0.6"/>
<path d="M546.7 172.1V185.8" stroke="#444" stroke-width="0.6"/>
<path d="M548.2 170.0V180.8" stroke="#5a5a5a" stroke-width="0.6"/>
<path d="M550.1 169.3V191.7" stroke="#5a5a5a" stroke-width="0.6"/>
<path d="M552.0 166.5V191.2" stroke="#8a8a8a" stroke-width="0.6"/>
<path d="M553.7 166.4V182.6" stroke="#444" stroke-width="0.6"/>
<path d="M554.9 167.5V189.0" stroke="#8a8a8a" stroke-width="0.6"/>
<path d="M556.0 166.1V180.8" stroke="#8a8a8a" stroke-width="0.6"/>
<path d="M557.7 171.0V181.7" stroke="#8a8a8a" stroke-width="0.6"/>
<path d="M559.8 169.9V184.0" stroke="#8a8a8a" stroke-width="0.6"/>
<path d="M561.3 168.1V188.0" stroke="#8a8a8a" stroke-width="0.6"/>
<path d="M563.5 174.2V182.1" stroke="#444" stroke-width="0.6"/>
<path d="M564.6 170.6V186.7" stroke="#8a8a8a" stroke-width="0.6"/>
<path d="M566.2 174.6V184.7" stroke="#5a5a5a" stroke-width="0.6"/>
<path d="M568.2 177.2V188.3" stroke="#777" stroke-width="0.6"/>
<path d="M570.0 175.2V188.8" stroke="#444" stroke-width="0.6"/>
<path d="M571.5 182.3V193.8" stroke="#777" stroke-width="0.6"/>
<path d="M573.1 176.0V200.3" stroke="#444" stroke-width="0.6"/>
<path d="M575.2 180.2V195.5" stroke="#8a8a8a" stroke-width="0.6"/>
<path d="M576.7 183.6V194.6" stroke="#444" stroke-width="0.6"/>
<path d="M578.7 184.0V196.5" stroke="#444" stroke-width="0.6"/>
<path d="M580.7 188.2V201.6" stroke="#8a8a8a" stroke-width="0.6"/>
<path d="M581.9 184.1V200.7" stroke="#5a5a5a" stroke-width="0.6"/>
<path d="M583.8 188.8V206.2" stroke="#8a8a8a" stroke-width="0.6"/>
<path d="M585.8 191.6V211.4" stroke="#8a8a8a" stroke-width="0.6"/>
<path d="M588.0 193.1V204.0" stroke="#5a5a5a" stroke-width="0.6"/>
<path d="M589.6 191.5V207.6" stroke="#8a8a8a" stroke-width="0.6"/>
<path d="M591.2 193.0V213.3" stroke="#8a8a8a" stroke-width="0.6"/>
<path d="M592.7 196.2V216.2" stroke="#444" stroke-width="0.6"/>
<path d="M594.2 196.3V219.5" stroke="#444" stroke-width="0.6"/>
<path d="M596.4 198.2V218.0" stroke="#777" stroke-width="0.6"/>
<path d="M597.7 204.6V223.7" stroke="#8a8a8a" stroke-width="0.6"/>
<path d="M599.5 203.8V224.3" stroke="#777" stroke-width="0.6"/>
<path d="M601.3 203.8V223.5" stroke="#444" stroke-width="0.6"/>
<path d="M602.8 208.3V229.2" stroke="#8a8a8a" stroke-width="0.6"/>
<path d="M604.6 214.4V222.6" stroke="#444" stroke-width="0.6"/>
<path d="M606.4 215.0V231.5" stroke="#777" stroke-width="0.6"/>
<path d="M608.2 217.7V229.7" stroke="#777" stroke-width="0.6"/>
<path d="M609.5 212.0V226.4" stroke="#777" stroke-width="0.6"/>
<path d="M611.1 216.1V231.4" stroke="#8a8a8a" stroke-width="0.6"/>
<path d="M612.7 217.2V235.2" stroke="#777" stroke-width="0.6"/>
<path d="M614.5 221.2V234.4" stroke="#8a8a8a" stroke-width="0.6"/>
<path d="M616.6 220.3V241.5" stroke="#8a8a8a" stroke-width="0.6"/>
<path d="M618.7 226.0V240.0" stroke="#8a8a8a" stroke-width="0.6"/>
<path d="M620.4 230.1V245.8" stroke="#8a8a8a" stroke-width="0.6"/>
<path d="M622.4 231.7V250.8" stroke="#8a8a8a" stroke-width="0.6"/>
<path d="M624.1 235.6V247.4" stroke="#444" stroke-width="0.6"/>
<path d="M626.2 233.3V254.3" stroke="#8a8a8a" stroke-width="0.6"/>
<path d="M628.2 239.2V255.1" stroke="#8a8a8a" stroke-width="0.6"/>
<path d="M629.9 242.5V255.1" stroke="#444" stroke-width="0.6"/>
<path d="M631.5 243.0V262.7" stroke="#444" stroke-width="0.6"/>
<path d="M633.7 252.4V273.0" stroke="#777" stroke-width="0.6"/>
<path d="M635.4 257.2V277.1" stroke="#444" stroke-width="0.6"/>
<path d="M636.8 262.1V279.6" stroke="#8a8a8a" stroke-width="0.6"/>
<path d="M638.5 263.6V277.6" stroke="#5a5a5a" stroke-width="0.6"/>
<path d="M490.4 145.3V165.3M488.6 145.3h3.5M488.6 165.3h3.5" stroke="#555" stroke-width="0.7" fill="none"/>
<path d="M514.1 162.1V182.1M512.4 162.1h3.5M512.4 182.1h3.5" stroke="#555" stroke-width="0.7" fill="none"/>
<path d="M530.3 181.1V201.1M528.5 181.1h3.5M528.5 201.1h3.5" stroke="#555" stroke-width="0.7" fill="none"/>
<path d="M543.7 168.6V188.6M542.0 168.6h3.5M542.0 188.6h3.5" stroke="#555" stroke-width="0.7" fill="none"/>
<path d="M554.4 166.4V186.4M552.6 166.4h3.5M552.6 186.4h3.5" stroke="#555" stroke-width="0.7" fill="none"/>
<path d="M562.6 167.7V187.7M560.9 167.7h3.5M560.9 187.7h3.5" stroke="#555" stroke-width="0.7" fill="none"/>
<path d="M570.5 175.0V195.0M568.8 175.0h3.5M568.8 195.0h3.5" stroke="#555" stroke-width="0.7" fill="none"/>
<path d="M577.6 180.6V200.6M575.9 180.6h3.5M575.9 200.6h3.5" stroke="#555" stroke-width="0.7" fill="none"/>
<path d="M584.1 184.9V204.9M582.4 184.9h3.5M582.4 204.9h3.5" stroke="#555" stroke-width="0.7" fill="none"/>
<path d="M588.8 189.7V209.7M587.0 189.7h3.5M587.0 209.7h3.5" stroke="#555" stroke-width="0.7" fill="none"/>
<path d="M594.2 196.1V216.1M592.5 196.1h3.5M592.5 216.1h3.5" stroke="#555" stroke-width="0.7" fill="none"/>
<path d="M598.5 201.5V221.5M596.8 201.5h3.5M596.8 221.5h3.5" stroke="#555" stroke-width="0.7" fill="none"/>
<path d="M603.2 206.2V226.2M601.5 206.2h3.5M601.5 226.2h3.5" stroke="#555" stroke-width="0.7" fill="none"/>
<path d="M607.3 210.3V230.3M605.5 210.3h3.5M605.5 230.3h3.5" stroke="#555" stroke-width="0.7" fill="none"/>
<path d="M611.1 213.4V233.4M609.4 213.4h3.5M609.4 233.4h3.5" stroke="#555" stroke-width="0.7" fill="none"/>
<path d="M614.5 217.1V237.1M612.8 217.1h3.5M612.8 237.1h3.5" stroke="#555" stroke-width="0.7" fill="none"/>
<path d="M620.1 225.4V245.4M618.4 225.4h3.5M618.4 245.4h3.5" stroke="#555" stroke-width="0.7" fill="none"/>
<path d="M624.2 230.0V250.0M622.5 230.0h3.5M622.5 250.0h3.5" stroke="#555" stroke-width="0.7" fill="none"/>
<path d="M626.9 235.4V255.4M625.1 235.4h3.5M625.1 255.4h3.5" stroke="#555" stroke-width="0.7" fill="none"/>
<path d="M629.6 239.7V259.7M627.9 239.7h3.5M627.9 259.7h3.5" stroke="#555" stroke-width="0.7" fill="none"/>
<path d="M631.7 244.2V264.2M630.0 244.2h3.5M630.0 264.2h3.5" stroke="#555" stroke-width="0.7" fill="none"/>
<path d="M633.6 248.3V268.3M631.9 248.3h3.5M631.9 268.3h3.5" stroke="#555" stroke-width="0.7" fill="none"/>
<path d="M636.0 253.5V273.5M634.2 253.5h3.5M634.2 273.5h3.5" stroke="#555" stroke-width="0.7" fill="none"/>
<path d="M638.5 259.0V279.0M636.8 259.0h3.5M636.8 279.0h3.5" stroke="#555" stroke-width="0.7" fill="none"/>
<path d="M641.0 265.5V285.5M639.2 265.5h3.5M639.2 285.5h3.5" stroke="#555" stroke-width="0.7" fill="none"/>
<path d="M643.5 271.5V291.5M641.8 271.5h3.5M641.8 291.5h3.5" stroke="#555" stroke-width="0.7" fill="none"/>
<path d="M675.0 261.8V281.8M673.2 261.8h3.5M673.2 281.8h3.5" stroke="#555" stroke-width="0.7" fill="none"/>
<path d="M673.4 270.3V290.3M671.6 270.3h3.5M671.6 290.3h3.5" stroke="#555" stroke-width="0.7" fill="none"/>
<path d="M672.7 279.0V299.0M671.0 279.0h3.5M671.0 299.0h3.5" stroke="#555" stroke-width="0.7" fill="none"/>
<path d="M671.5 287.0V307.0M669.8 287.0h3.5M669.8 307.0h3.5" stroke="#555" stroke-width="0.7" fill="none"/>
<path d="M670.4 296.0V316.0M668.6 296.0h3.5M668.6 316.0h3.5" stroke="#555" stroke-width="0.7" fill="none"/>
<path d="M669.2 304.0V324.0M667.5 304.0h3.5M667.5 324.0h3.5" stroke="#555" stroke-width="0.7" fill="none"/>
<path d="M668.1 310.9V330.9M666.4 310.9h3.5M666.4 330.9h3.5" stroke="#555" stroke-width="0.7" fill="none"/>
<path d="M645.3 277.8V297.8M643.5 277.8h3.5M643.5 297.8h3.5" stroke="#555" stroke-width="0.7" fill="none"/>
<path d="M647.6 285.3V305.3M645.9 285.3h3.5M645.9 305.3h3.5" stroke="#555" stroke-width="0.7" fill="none"/>
<path d="M649.8 292.2V312.2M648.0 292.2h3.5M648.0 312.2h3.5" stroke="#555" stroke-width="0.7" fill="none"/>
<path d="M652.1 298.4V318.4M650.4 298.4h3.5M650.4 318.4h3.5" stroke="#555" stroke-width="0.7" fill="none"/>
<path d="M654.4 304.1V324.1M652.6 304.1h3.5M652.6 324.1h3.5" stroke="#555" stroke-width="0.7" fill="none"/>
<path d="M656.7 309.8V329.8M655.0 309.8h3.5M655.0 329.8h3.5" stroke="#555" stroke-width="0.7" fill="none"/>
<path d="M657.8 315.0V335.0M656.0 315.0h3.5M656.0 335.0h3.5" stroke="#555" stroke-width="0.7" fill="none"/>
<path d="M447.9 109.0V125.0M446.1 109.0h3.5M446.1 125.0h3.5" stroke="#6a6a6a" stroke-width="0.7" fill="none"/>
<path d="M512.9 172.7V188.7M511.1 172.7h3.5M511.1 188.7h3.5" stroke="#6a6a6a" stroke-width="0.7" fill="none"/>
<path d="M552.3 190.6V206.6M550.5 190.6h3.5M550.5 206.6h3.5" stroke="#6a6a6a" stroke-width="0.7" fill="none"/>
<path d="M569.0 191.7V207.7M567.2 191.7h3.5M567.2 207.7h3.5" stroke="#6a6a6a" stroke-width="0.7" fill="none"/>
<path d="M575.5 188.4V204.4M573.8 188.4h3.5M573.8 204.4h3.5" stroke="#6a6a6a" stroke-width="0.7" fill="none"/>
<path d="M582.4 190.6V206.6M580.6 190.6h3.5M580.6 206.6h3.5" stroke="#6a6a6a" stroke-width="0.7" fill="none"/>
<path d="M592.8 193.5V209.5M591.0 193.5h3.5M591.0 209.5h3.5" stroke="#6a6a6a" stroke-width="0.7" fill="none"/>
<path d="M597.5 196.9V212.9M595.8 196.9h3.5M595.8 212.9h3.5" stroke="#6a6a6a" stroke-width="0.7" fill="none"/>
<path d="M601.7 200.7V216.7M600.0 200.7h3.5M600.0 216.7h3.5" stroke="#6a6a6a" stroke-width="0.7" fill="none"/>
<path d="M606.0 205.4V221.4M604.2 205.4h3.5M604.2 221.4h3.5" stroke="#6a6a6a" stroke-width="0.7" fill="none"/>
<path d="M609.8 209.1V225.1M608.0 209.1h3.5M608.0 225.1h3.5" stroke="#6a6a6a" stroke-width="0.7" fill="none"/>
<path d="M625.5 243.5V259.5M623.8 243.5h3.5M623.8 259.5h3.5" stroke="#6a6a6a" stroke-width="0.7" fill="none"/>
<path d="M630.0 249.0V265.0M628.2 249.0h3.5M628.2 265.0h3.5" stroke="#6a6a6a" stroke-width="0.7" fill="none"/>
<path d="M635.0 255.0V271.0M633.2 255.0h3.5M633.2 271.0h3.5" stroke="#6a6a6a" stroke-width="0.7" fill="none"/>
<path d="M645.0 277.0V293.0M643.2 277.0h3.5M643.2 293.0h3.5" stroke="#6a6a6a" stroke-width="0.7" fill="none"/>
<path d="M649.0 273.5V289.5M647.2 273.5h3.5M647.2 289.5h3.5" stroke="#6a6a6a" stroke-width="0.7" fill="none"/>
<path d="M653.0 270.0V286.0M651.2 270.0h3.5M651.2 286.0h3.5" stroke="#6a6a6a" stroke-width="0.7" fill="none"/>
<path d="M657.0 266.0V282.0M655.2 266.0h3.5M655.2 282.0h3.5" stroke="#6a6a6a" stroke-width="0.7" fill="none"/>
<path d="M661.0 262.5V278.5M659.2 262.5h3.5M659.2 278.5h3.5" stroke="#6a6a6a" stroke-width="0.7" fill="none"/>
<path d="M665.0 259.0V275.0M663.2 259.0h3.5M663.2 275.0h3.5" stroke="#6a6a6a" stroke-width="0.7" fill="none"/>
<path d="M613.5 212.5V228.5M611.8 212.5h3.5M611.8 228.5h3.5" stroke="#6a6a6a" stroke-width="0.7" fill="none"/>
<path d="M617.0 217.0V233.0M615.2 217.0h3.5M615.2 233.0h3.5" stroke="#6a6a6a" stroke-width="0.7" fill="none"/>
<path d="M620.5 222.5V238.5M618.8 222.5h3.5M618.8 238.5h3.5" stroke="#6a6a6a" stroke-width="0.7" fill="none"/>
<path d="M624.0 229.0V245.0M622.2 229.0h3.5M622.2 245.0h3.5" stroke="#6a6a6a" stroke-width="0.7" fill="none"/>
<path d="M627.0 235.0V251.0M625.2 235.0h3.5M625.2 251.0h3.5" stroke="#6a6a6a" stroke-width="0.7" fill="none"/>
<path d="M630.0 241.0V257.0M628.2 241.0h3.5M628.2 257.0h3.5" stroke="#6a6a6a" stroke-width="0.7" fill="none"/>
<path d="M633.0 247.0V263.0M631.2 247.0h3.5M631.2 263.0h3.5" stroke="#6a6a6a" stroke-width="0.7" fill="none"/>
<path d="M636.0 253.0V269.0M634.2 253.0h3.5M634.2 269.0h3.5" stroke="#6a6a6a" stroke-width="0.7" fill="none"/>
<path d="M639.0 259.0V275.0M637.2 259.0h3.5M637.2 275.0h3.5" stroke="#6a6a6a" stroke-width="0.7" fill="none"/>
<rect x="457.70" y="129.20" width="5.6" height="5.6" fill="#eef2ff" stroke="#6a86d8" stroke-width="1.1"/>
<rect x="497.20" y="162.20" width="5.6" height="5.6" fill="#eef2ff" stroke="#6a86d8" stroke-width="1.1"/>
<rect x="521.90" y="176.20" width="5.6" height="5.6" fill="#eef2ff" stroke="#6a86d8" stroke-width="1.1"/>
<rect x="538.20" y="164.40" width="5.6" height="5.6" fill="#eef2ff" stroke="#6a86d8" stroke-width="1.1"/>
<circle cx="455.60" cy="143.00" r="2.3" fill="#fff" stroke="#555" stroke-width="0.7"/>
<circle cx="442.10" cy="154.90" r="2.3" fill="#fff" stroke="#555" stroke-width="0.7"/>
<circle cx="465.70" cy="177.10" r="2.3" fill="#fff" stroke="#555" stroke-width="0.7"/>
<circle cx="474.60" cy="182.50" r="2.3" fill="#fff" stroke="#555" stroke-width="0.7"/>
<circle cx="495.90" cy="151.60" r="2.3" fill="#fff" stroke="#555" stroke-width="0.7"/>
<circle cx="506.00" cy="159.50" r="2.3" fill="#fff" stroke="#555" stroke-width="0.7"/>
<circle cx="520.40" cy="168.30" r="2.3" fill="#fff" stroke="#555" stroke-width="0.7"/>
<polygon points="486.90,145.53 493.90,145.53 490.40,139.47" fill="#fff" stroke="#777" stroke-width="0.8"/>
<polygon points="636.80,308.63 643.80,308.63 640.30,302.57" fill="#fff" stroke="#777" stroke-width="0.8"/>
<polygon points="435.80,129.32 441.40,129.32 438.60,124.48" fill="#9ab6ee" stroke="#5f7fcc" stroke-width="0.7"/>
<polygon points="475.90,117.32 481.50,117.32 478.70,112.48" fill="#9ab6ee" stroke="#5f7fcc" stroke-width="0.7"/>
<polygon points="499.50,124.82 505.10,124.82 502.30,119.98" fill="#9ab6ee" stroke="#5f7fcc" stroke-width="0.7"/>
<polygon points="516.50,135.62 522.10,135.62 519.30,130.78" fill="#9ab6ee" stroke="#5f7fcc" stroke-width="0.7"/>
<polygon points="529.40,150.32 535.00,150.32 532.20,145.48" fill="#9ab6ee" stroke="#5f7fcc" stroke-width="0.7"/>
<polygon points="539.90,163.52 545.50,163.52 542.70,158.68" fill="#9ab6ee" stroke="#5f7fcc" stroke-width="0.7"/>
<polygon points="551.30,167.92 556.90,167.92 554.10,163.08" fill="#9ab6ee" stroke="#5f7fcc" stroke-width="0.7"/>
<polygon points="563.50,180.12 569.10,180.12 566.30,175.28" fill="#9ab6ee" stroke="#5f7fcc" stroke-width="0.7"/>
<polygon points="619.20,242.42 624.80,242.42 622.00,237.58" fill="#9ab6ee" stroke="#5f7fcc" stroke-width="0.7"/>
<polygon points="625.20,254.42 630.80,254.42 628.00,249.58" fill="#9ab6ee" stroke="#5f7fcc" stroke-width="0.7"/>
<polygon points="631.20,268.42 636.80,268.42 634.00,263.58" fill="#9ab6ee" stroke="#5f7fcc" stroke-width="0.7"/>
<polygon points="637.20,282.42 642.80,282.42 640.00,277.58" fill="#9ab6ee" stroke="#5f7fcc" stroke-width="0.7"/>
<polygon points="642.20,294.42 647.80,294.42 645.00,289.58" fill="#9ab6ee" stroke="#5f7fcc" stroke-width="0.7"/>
<polygon points="647.20,306.42 652.80,306.42 650.00,301.58" fill="#9ab6ee" stroke="#5f7fcc" stroke-width="0.7"/>
<polygon points="652.20,316.42 657.80,316.42 655.00,311.58" fill="#9ab6ee" stroke="#5f7fcc" stroke-width="0.7"/>
<polygon points="657.20,323.42 662.80,323.42 660.00,318.58" fill="#9ab6ee" stroke="#5f7fcc" stroke-width="0.7"/>
<polygon points="661.20,312.42 666.80,312.42 664.00,307.58" fill="#9ab6ee" stroke="#5f7fcc" stroke-width="0.7"/>
<polygon points="664.20,300.42 669.80,300.42 667.00,295.58" fill="#9ab6ee" stroke="#5f7fcc" stroke-width="0.7"/>
<polygon points="668.20,288.42 673.80,288.42 671.00,283.58" fill="#9ab6ee" stroke="#5f7fcc" stroke-width="0.7"/>
<polygon points="671.20,276.42 676.80,276.42 674.00,271.58" fill="#9ab6ee" stroke="#5f7fcc" stroke-width="0.7"/>
<polygon points="673.80,264.42 679.40,264.42 676.60,259.58" fill="#9ab6ee" stroke="#5f7fcc" stroke-width="0.7"/>
<polygon points="675.20,252.92 680.80,252.92 678.00,248.08" fill="#9ab6ee" stroke="#5f7fcc" stroke-width="0.7"/>
<polygon points="677.20,242.42 682.80,242.42 680.00,237.58" fill="#9ab6ee" stroke="#5f7fcc" stroke-width="0.7"/>
<polygon points="674.20,257.42 679.80,257.42 677.00,252.58" fill="#9ab6ee" stroke="#5f7fcc" stroke-width="0.7"/>
<polygon points="659.20,302.42 664.80,302.42 662.00,297.58" fill="#9ab6ee" stroke="#5f7fcc" stroke-width="0.7"/>
<polygon points="663.20,292.42 668.80,292.42 666.00,287.58" fill="#9ab6ee" stroke="#5f7fcc" stroke-width="0.7"/>
<polygon points="655.20,314.42 660.80,314.42 658.00,309.58" fill="#9ab6ee" stroke="#5f7fcc" stroke-width="0.7"/>
<polygon points="674.40,252.72 680.00,252.72 677.20,247.88" fill="#9ab6ee" stroke="#5f7fcc" stroke-width="0.7"/>
<polygon points="674.40,260.42 680.00,260.42 677.20,255.58" fill="#9ab6ee" stroke="#5f7fcc" stroke-width="0.7"/>
<polygon points="674.40,267.42 680.00,267.42 677.20,262.58" fill="#9ab6ee" stroke="#5f7fcc" stroke-width="0.7"/>
<polygon points="669.20,264.42 674.80,264.42 672.00,259.58" fill="#9ab6ee" stroke="#5f7fcc" stroke-width="0.7"/>
<polygon points="665.20,277.42 670.80,277.42 668.00,272.58" fill="#9ab6ee" stroke="#5f7fcc" stroke-width="0.7"/>
<polygon points="657.20,292.42 662.80,292.42 660.00,287.58" fill="#9ab6ee" stroke="#5f7fcc" stroke-width="0.7"/>
<polygon points="661.20,300.42 666.80,300.42 664.00,295.58" fill="#9ab6ee" stroke="#5f7fcc" stroke-width="0.7"/>
<polygon points="652.20,302.42 657.80,302.42 655.00,297.58" fill="#9ab6ee" stroke="#5f7fcc" stroke-width="0.7"/>
<polygon points="659.20,312.42 664.80,312.42 662.00,307.58" fill="#9ab6ee" stroke="#5f7fcc" stroke-width="0.7"/>
<polygon points="669.20,320.42 674.80,320.42 672.00,315.58" fill="#9ab6ee" stroke="#5f7fcc" stroke-width="0.7"/>
<polygon points="677.20,282.42 682.80,282.42 680.00,277.58" fill="#9ab6ee" stroke="#5f7fcc" stroke-width="0.7"/>
<polygon points="680.20,302.42 685.80,302.42 683.00,297.58" fill="#9ab6ee" stroke="#5f7fcc" stroke-width="0.7"/>
<polygon points="590.90,196.32 596.50,196.32 593.70,191.48" fill="#dfe8fb" stroke="#6a86d0" stroke-width="0.9"/>
<polygon points="582.20,191.42 587.80,191.42 585.00,186.58" fill="#dfe8fb" stroke="#6a86d0" stroke-width="0.9"/>
<polygon points="597.20,201.42 602.80,201.42 600.00,196.58" fill="#dfe8fb" stroke="#6a86d0" stroke-width="0.9"/>
<polygon points="612.20,215.42 617.80,215.42 615.00,210.58" fill="#dfe8fb" stroke="#6a86d0" stroke-width="0.9"/>
<polygon points="617.20,222.42 622.80,222.42 620.00,217.58" fill="#dfe8fb" stroke="#6a86d0" stroke-width="0.9"/>
<polygon points="529.60,153.00 531.16,157.16 535.59,157.35 532.12,160.12 533.30,164.40 529.60,161.95 525.90,164.40 527.08,160.12 523.61,157.35 528.04,157.16" fill="none" stroke="#7d6a60" stroke-width="1.9"/><polygon points="529.60,153.00 531.16,157.16 535.59,157.35 532.12,160.12 533.30,164.40 529.60,161.95 525.90,164.40 527.08,160.12 523.61,157.35 528.04,157.16" fill="#fffaf4" stroke="#eab79c" stroke-width="0.8"/>
<polygon points="602.80,194.90 604.08,198.33 607.75,198.49 604.88,200.77 605.86,204.31 602.80,202.28 599.74,204.31 600.72,200.77 597.85,198.49 601.52,198.33" fill="none" stroke="#7d6a60" stroke-width="1.9"/><polygon points="602.80,194.90 604.08,198.33 607.75,198.49 604.88,200.77 605.86,204.31 602.80,202.28 599.74,204.31 600.72,200.77 597.85,198.49 601.52,198.33" fill="#fffaf4" stroke="#eab79c" stroke-width="0.8"/>
<polygon points="611.10,200.20 612.38,203.63 616.05,203.79 613.18,206.07 614.16,209.61 611.10,207.58 608.04,209.61 609.02,206.07 606.15,203.79 609.82,203.63" fill="none" stroke="#7d6a60" stroke-width="1.9"/><polygon points="611.10,200.20 612.38,203.63 616.05,203.79 613.18,206.07 614.16,209.61 611.10,207.58 608.04,209.61 609.02,206.07 606.15,203.79 609.82,203.63" fill="#fffaf4" stroke="#eab79c" stroke-width="0.8"/>
<polygon points="627.30,297.50 628.78,301.46 633.01,301.65 629.70,304.28 630.83,308.35 627.30,306.02 623.77,308.35 624.90,304.28 621.59,301.65 625.82,301.46" fill="none" stroke="#7d6a60" stroke-width="1.9"/><polygon points="627.30,297.50 628.78,301.46 633.01,301.65 629.70,304.28 630.83,308.35 627.30,306.02 623.77,308.35 624.90,304.28 621.59,301.65 625.82,301.46" fill="#fffaf4" stroke="#eab79c" stroke-width="0.8"/>
<polygon points="527.70,215.71 535.30,215.71 531.50,222.29" fill="#fff" stroke="#9a7ae6" stroke-width="1.0"/>
<polygon points="569.50,170.01 577.10,170.01 573.30,176.59" fill="#fff" stroke="#9a7ae6" stroke-width="1.0"/>
<polygon points="623.50,219.11 631.10,219.11 627.30,225.69" fill="#fff" stroke="#9a7ae6" stroke-width="1.0"/>
<polygon points="633.80,223.01 641.40,223.01 637.60,229.59" fill="#fff" stroke="#9a7ae6" stroke-width="1.0"/>
<polygon points="643.20,225.71 650.80,225.71 647.00,232.29" fill="#fff" stroke="#9a7ae6" stroke-width="1.0"/>
<polygon points="640.80,226.61 648.40,226.61 644.60,233.19" fill="#fff" stroke="#9a7ae6" stroke-width="1.0"/>
<polygon points="648.60,240.51 656.20,240.51 652.40,247.09" fill="#fff" stroke="#9a7ae6" stroke-width="1.0"/>
<polygon points="656.70,258.01 664.30,258.01 660.50,264.59" fill="#fff" stroke="#9a7ae6" stroke-width="1.0"/>
<polygon points="649.50,239.01 657.10,239.01 653.30,245.59" fill="#fff" stroke="#9a7ae6" stroke-width="1.0"/>
<polygon points="655.20,258.41 662.80,258.41 659.00,264.99" fill="#fff" stroke="#9a7ae6" stroke-width="1.0"/>
<polygon points="541.00,214.00 546.33,217.87 544.29,224.13 537.71,224.13 535.67,217.87" fill="none" stroke="#6a5a55" stroke-width="2.1"/><polygon points="541.00,214.00 546.33,217.87 544.29,224.13 537.71,224.13 535.67,217.87" fill="#fff" stroke="#eca48e" stroke-width="1.1"/>
<polygon points="581.30,213.50 586.63,217.37 584.59,223.63 578.01,223.63 575.97,217.37" fill="none" stroke="#6a5a55" stroke-width="2.1"/><polygon points="581.30,213.50 586.63,217.37 584.59,223.63 578.01,223.63 575.97,217.37" fill="#fff" stroke="#eca48e" stroke-width="1.1"/>
<polygon points="604.40,233.00 609.73,236.87 607.69,243.13 601.11,243.13 599.07,236.87" fill="none" stroke="#6a5a55" stroke-width="2.1"/><polygon points="604.40,233.00 609.73,236.87 607.69,243.13 601.11,243.13 599.07,236.87" fill="#fff" stroke="#eca48e" stroke-width="1.1"/>
<polygon points="634.40,236.10 639.73,239.97 637.69,246.23 631.11,246.23 629.07,239.97" fill="none" stroke="#6a5a55" stroke-width="2.1"/><polygon points="634.40,236.10 639.73,239.97 637.69,246.23 631.11,246.23 629.07,239.97" fill="#fff" stroke="#eca48e" stroke-width="1.1"/>
<polygon points="647.00,253.00 652.33,256.87 650.29,263.13 643.71,263.13 641.67,256.87" fill="none" stroke="#6a5a55" stroke-width="2.1"/><polygon points="647.00,253.00 652.33,256.87 650.29,263.13 643.71,263.13 641.67,256.87" fill="#fff" stroke="#eca48e" stroke-width="1.1"/>
<polygon points="661.80,281.20 667.13,285.07 665.09,291.33 658.51,291.33 656.47,285.07" fill="none" stroke="#6a5a55" stroke-width="2.1"/><polygon points="661.80,281.20 667.13,285.07 665.09,291.33 658.51,291.33 656.47,285.07" fill="#fff" stroke="#eca48e" stroke-width="1.1"/>
<polygon points="675.30,300.00 680.63,303.87 678.59,310.13 672.01,310.13 669.97,303.87" fill="none" stroke="#6a5a55" stroke-width="2.1"/><polygon points="675.30,300.00 680.63,303.87 678.59,310.13 672.01,310.13 669.97,303.87" fill="#fff" stroke="#eca48e" stroke-width="1.1"/>
<polygon points="644.10,251.50 649.43,255.37 647.39,261.63 640.81,261.63 638.77,255.37" fill="none" stroke="#6a5a55" stroke-width="2.1"/><polygon points="644.10,251.50 649.43,255.37 647.39,261.63 640.81,261.63 638.77,255.37" fill="#fff" stroke="#eca48e" stroke-width="1.1"/>
<polygon points="662.40,278.90 667.73,282.77 665.69,289.03 659.11,289.03 657.07,282.77" fill="none" stroke="#6a5a55" stroke-width="2.1"/><polygon points="662.40,278.90 667.73,282.77 665.69,289.03 659.11,289.03 657.07,282.77" fill="#fff" stroke="#eca48e" stroke-width="1.1"/>
<polygon points="676.10,300.60 681.43,304.47 679.39,310.73 672.81,310.73 670.77,304.47" fill="none" stroke="#6a5a55" stroke-width="2.1"/><polygon points="676.10,300.60 681.43,304.47 679.39,310.73 672.81,310.73 670.77,304.47" fill="#fff" stroke="#eca48e" stroke-width="1.1"/>
<path d="M431.6 65.6V207.9M425.3 65.6h12.6M425.3 207.9h12.6" stroke="#111" stroke-width="1.3" fill="none"/>
<path d="M455.6 102.9V224.3M449.2 102.9h12.8M449.2 224.3h12.8" stroke="#111" stroke-width="1.3" fill="none"/>
<path d="M480.8 115.4V211.3M474.9 115.4h11.7M474.9 211.3h11.7" stroke="#111" stroke-width="1.3" fill="none"/>
<path d="M510.6 141.6V195.4M504.5 141.6h12.3M504.5 195.4h12.3" stroke="#111" stroke-width="1.3" fill="none"/>
<path d="M537.4 142.4V219.0M531.1 142.4h12.5M531.1 219.0h12.5" stroke="#111" stroke-width="1.3" fill="none"/>
<path d="M564.3 155.8V229.8M558.5 155.8h11.5M558.5 229.8h11.5" stroke="#111" stroke-width="1.3" fill="none"/>
<path d="M591.0 179.3V247.0M584.9 179.3h12.3M584.9 247.0h12.3" stroke="#111" stroke-width="1.3" fill="none"/>
<path d="M617.9 209.9V247.0M612.7 209.9h10.4M612.7 247.0h10.4" stroke="#111" stroke-width="1.3" fill="none"/>
<path d="M640.3 232.5V310.5M633.8 232.5h13M633.8 310.5h13" stroke="#111" stroke-width="1.3" fill="none"/>
<path d="M669.2 282.2V330.0M660.2 282.2h18M660.2 330.0h18" stroke="#111" stroke-width="1.3" fill="none"/>
<path d="M419.4 136.9H443.0M419.4 131.2v11.3M443.0 131.2v11.3" stroke="#111" stroke-width="1.3" fill="none"/>
<path d="M446.1 163.1H465.3M446.1 157.0v12.2M465.3 157.0v12.2" stroke="#111" stroke-width="1.3" fill="none"/>
<path d="M472.6 163.3H489.2M472.6 157.3v12M489.2 157.3v12" stroke="#111" stroke-width="1.3" fill="none"/>
<path d="M501.1 168.1H517.6M501.1 162.1v12M517.6 162.1v12" stroke="#111" stroke-width="1.3" fill="none"/>
<path d="M558.7 193.3H569.9M558.7 188.3v10M569.9 188.3v10" stroke="#111" stroke-width="1.3" fill="none"/>
<path d="M582.4 213.7H596.3M582.4 208.7v10M596.3 208.7v10" stroke="#111" stroke-width="1.3" fill="none"/>
<path d="M633.6 270.7H649.7M633.6 262.2v17M649.7 262.2v17" stroke="#111" stroke-width="1.3" fill="none"/>
<path d="M531.0 180.8H543.0M531.0 175.8v10M543.0 175.8v10" stroke="#111" stroke-width="1.3" fill="none"/>
<rect x="633.6" y="262.5" width="16.1" height="16.5" rx="1.5" fill="none" stroke="#111" stroke-width="1.4"/>
<rect x="445.40" y="113.50" width="5.0" height="5.0" fill="#a8d89a" stroke="#222" stroke-width="0.9"/>
<rect x="510.40" y="177.20" width="5.0" height="5.0" fill="#a8d89a" stroke="#222" stroke-width="0.9"/>
<rect x="549.80" y="195.10" width="5.0" height="5.0" fill="#a8d89a" stroke="#222" stroke-width="0.9"/>
<rect x="566.50" y="196.20" width="5.0" height="5.0" fill="#a8d89a" stroke="#222" stroke-width="0.9"/>
<rect x="573.00" y="192.90" width="5.0" height="5.0" fill="#a8d89a" stroke="#222" stroke-width="0.9"/>
<rect x="579.90" y="195.10" width="5.0" height="5.0" fill="#a8d89a" stroke="#222" stroke-width="0.9"/>
<rect x="590.30" y="198.00" width="5.0" height="5.0" fill="#a8d89a" stroke="#222" stroke-width="0.9"/>
<rect x="595.00" y="201.40" width="5.0" height="5.0" fill="#a8d89a" stroke="#222" stroke-width="0.9"/>
<rect x="599.20" y="205.20" width="5.0" height="5.0" fill="#a8d89a" stroke="#222" stroke-width="0.9"/>
<rect x="603.50" y="209.90" width="5.0" height="5.0" fill="#a8d89a" stroke="#222" stroke-width="0.9"/>
<rect x="607.30" y="213.60" width="5.0" height="5.0" fill="#a8d89a" stroke="#222" stroke-width="0.9"/>
<rect x="623.00" y="248.00" width="5.0" height="5.0" fill="#a8d89a" stroke="#222" stroke-width="0.9"/>
<rect x="627.50" y="253.50" width="5.0" height="5.0" fill="#a8d89a" stroke="#222" stroke-width="0.9"/>
<rect x="632.50" y="259.50" width="5.0" height="5.0" fill="#a8d89a" stroke="#222" stroke-width="0.9"/>
<rect x="642.50" y="281.50" width="5.0" height="5.0" fill="#a8d89a" stroke="#222" stroke-width="0.9"/>
<rect x="646.50" y="278.00" width="5.0" height="5.0" fill="#a8d89a" stroke="#222" stroke-width="0.9"/>
<rect x="650.50" y="274.50" width="5.0" height="5.0" fill="#a8d89a" stroke="#222" stroke-width="0.9"/>
<rect x="654.50" y="270.50" width="5.0" height="5.0" fill="#a8d89a" stroke="#222" stroke-width="0.9"/>
<rect x="658.50" y="267.00" width="5.0" height="5.0" fill="#a8d89a" stroke="#222" stroke-width="0.9"/>
<rect x="662.50" y="263.50" width="5.0" height="5.0" fill="#a8d89a" stroke="#222" stroke-width="0.9"/>
<rect x="611.00" y="217.00" width="5.0" height="5.0" fill="#a8d89a" stroke="#222" stroke-width="0.9"/>
<rect x="614.50" y="221.50" width="5.0" height="5.0" fill="#a8d89a" stroke="#222" stroke-width="0.9"/>
<rect x="618.00" y="227.00" width="5.0" height="5.0" fill="#a8d89a" stroke="#222" stroke-width="0.9"/>
<rect x="621.50" y="233.50" width="5.0" height="5.0" fill="#a8d89a" stroke="#222" stroke-width="0.9"/>
<rect x="624.50" y="239.50" width="5.0" height="5.0" fill="#a8d89a" stroke="#222" stroke-width="0.9"/>
<rect x="627.50" y="245.50" width="5.0" height="5.0" fill="#a8d89a" stroke="#222" stroke-width="0.9"/>
<rect x="630.50" y="251.50" width="5.0" height="5.0" fill="#a8d89a" stroke="#222" stroke-width="0.9"/>
<rect x="633.50" y="257.50" width="5.0" height="5.0" fill="#a8d89a" stroke="#222" stroke-width="0.9"/>
<rect x="636.50" y="263.50" width="5.0" height="5.0" fill="#a8d89a" stroke="#222" stroke-width="0.9"/>
<circle cx="490.40" cy="154.30" r="2.9" fill="#fbbf22" stroke="#333" stroke-width="0.8"/>
<circle cx="514.10" cy="171.10" r="2.9" fill="#fbbf22" stroke="#333" stroke-width="0.8"/>
<circle cx="530.30" cy="190.10" r="2.9" fill="#fbbf22" stroke="#333" stroke-width="0.8"/>
<circle cx="543.70" cy="177.60" r="2.9" fill="#fbbf22" stroke="#333" stroke-width="0.8"/>
<circle cx="554.40" cy="175.40" r="2.9" fill="#fbbf22" stroke="#333" stroke-width="0.8"/>
<circle cx="562.60" cy="176.70" r="2.9" fill="#fbbf22" stroke="#333" stroke-width="0.8"/>
<circle cx="570.50" cy="184.00" r="2.9" fill="#fbbf22" stroke="#333" stroke-width="0.8"/>
<circle cx="577.60" cy="189.60" r="2.9" fill="#fbbf22" stroke="#333" stroke-width="0.8"/>
<circle cx="584.10" cy="193.90" r="2.9" fill="#fbbf22" stroke="#333" stroke-width="0.8"/>
<circle cx="588.80" cy="198.70" r="2.6" fill="#fbbf22" stroke="#333" stroke-width="0.8"/>
<circle cx="594.20" cy="205.10" r="2.6" fill="#fbbf22" stroke="#333" stroke-width="0.8"/>
<circle cx="598.50" cy="210.50" r="2.6" fill="#fbbf22" stroke="#333" stroke-width="0.8"/>
<circle cx="603.20" cy="215.20" r="2.6" fill="#fbbf22" stroke="#333" stroke-width="0.8"/>
<circle cx="607.30" cy="219.30" r="2.6" fill="#fbbf22" stroke="#333" stroke-width="0.8"/>
<circle cx="611.10" cy="222.40" r="2.6" fill="#fbbf22" stroke="#333" stroke-width="0.8"/>
<circle cx="614.50" cy="226.10" r="2.6" fill="#fbbf22" stroke="#333" stroke-width="0.8"/>
<circle cx="620.10" cy="234.40" r="2.6" fill="#fbbf22" stroke="#333" stroke-width="0.8"/>
<circle cx="624.20" cy="239.00" r="2.6" fill="#fbbf22" stroke="#333" stroke-width="0.8"/>
<circle cx="626.90" cy="244.40" r="2.6" fill="#fbbf22" stroke="#333" stroke-width="0.8"/>
<circle cx="629.60" cy="248.70" r="2.6" fill="#fbbf22" stroke="#333" stroke-width="0.8"/>
<circle cx="631.70" cy="253.20" r="2.6" fill="#fbbf22" stroke="#333" stroke-width="0.8"/>
<circle cx="633.60" cy="257.30" r="2.6" fill="#fbbf22" stroke="#333" stroke-width="0.8"/>
<circle cx="636.00" cy="262.50" r="2.6" fill="#fbbf22" stroke="#333" stroke-width="0.8"/>
<circle cx="638.50" cy="268.00" r="2.6" fill="#fbbf22" stroke="#333" stroke-width="0.8"/>
<circle cx="641.00" cy="274.50" r="2.6" fill="#fbbf22" stroke="#333" stroke-width="0.8"/>
<circle cx="643.50" cy="280.50" r="2.6" fill="#fbbf22" stroke="#333" stroke-width="0.8"/>
<circle cx="675.00" cy="270.80" r="2.6" fill="#fbbf22" stroke="#333" stroke-width="0.8"/>
<circle cx="673.40" cy="279.30" r="2.6" fill="#fbbf22" stroke="#333" stroke-width="0.8"/>
<circle cx="672.70" cy="288.00" r="2.6" fill="#fbbf22" stroke="#333" stroke-width="0.8"/>
<circle cx="671.50" cy="296.00" r="2.6" fill="#fbbf22" stroke="#333" stroke-width="0.8"/>
<circle cx="670.40" cy="305.00" r="2.6" fill="#fbbf22" stroke="#333" stroke-width="0.8"/>
<circle cx="669.20" cy="313.00" r="2.6" fill="#fbbf22" stroke="#333" stroke-width="0.8"/>
<circle cx="668.10" cy="319.90" r="2.6" fill="#fbbf22" stroke="#333" stroke-width="0.8"/>
<circle cx="645.30" cy="286.80" r="2.6" fill="#fbbf22" stroke="#333" stroke-width="0.8"/>
<circle cx="647.60" cy="294.30" r="2.6" fill="#fbbf22" stroke="#333" stroke-width="0.8"/>
<circle cx="649.80" cy="301.20" r="2.6" fill="#fbbf22" stroke="#333" stroke-width="0.8"/>
<circle cx="652.10" cy="307.40" r="2.6" fill="#fbbf22" stroke="#333" stroke-width="0.8"/>
<circle cx="654.40" cy="313.10" r="2.6" fill="#fbbf22" stroke="#333" stroke-width="0.8"/>
<circle cx="656.70" cy="318.80" r="2.6" fill="#fbbf22" stroke="#333" stroke-width="0.8"/>
<circle cx="657.80" cy="324.00" r="2.6" fill="#fbbf22" stroke="#333" stroke-width="0.8"/>
<circle cx="664.00" cy="283.00" r="1.3" fill="#e03030" stroke="#8a1a1a" stroke-width="0.4"/>
<circle cx="670.00" cy="288.00" r="1.3" fill="#e03030" stroke="#8a1a1a" stroke-width="0.4"/>
<circle cx="676.00" cy="286.00" r="1.3" fill="#e03030" stroke="#8a1a1a" stroke-width="0.4"/>
<circle cx="681.00" cy="292.00" r="1.3" fill="#e03030" stroke="#8a1a1a" stroke-width="0.4"/>
<circle cx="667.00" cy="298.00" r="1.3" fill="#e03030" stroke="#8a1a1a" stroke-width="0.4"/>
<circle cx="675.00" cy="300.00" r="1.3" fill="#e03030" stroke="#8a1a1a" stroke-width="0.4"/>
<circle cx="683.00" cy="305.00" r="1.3" fill="#e03030" stroke="#8a1a1a" stroke-width="0.4"/>
<circle cx="664.00" cy="308.00" r="1.3" fill="#e03030" stroke="#8a1a1a" stroke-width="0.4"/>
<circle cx="672.00" cy="312.00" r="1.3" fill="#e03030" stroke="#8a1a1a" stroke-width="0.4"/>
<circle cx="679.00" cy="316.00" r="1.3" fill="#e03030" stroke="#8a1a1a" stroke-width="0.4"/>
<circle cx="666.00" cy="320.00" r="1.3" fill="#e03030" stroke="#8a1a1a" stroke-width="0.4"/>
<circle cx="684.00" cy="322.00" r="1.3" fill="#e03030" stroke="#8a1a1a" stroke-width="0.4"/>
<circle cx="660.00" cy="296.00" r="1.3" fill="#e03030" stroke="#8a1a1a" stroke-width="0.4"/>
<path d="M427.00 132.30L436.20 141.50M427.00 141.50L436.20 132.30" stroke="#e8262a" stroke-width="1.4" fill="none"/>
<path d="M451.00 158.50L460.20 167.70M451.00 167.70L460.20 158.50" stroke="#e8262a" stroke-width="1.4" fill="none"/>
<path d="M476.00 158.60L485.20 167.80M476.00 167.80L485.20 158.60" stroke="#e8262a" stroke-width="1.4" fill="none"/>
<path d="M505.60 163.60L514.80 172.80M505.60 172.80L514.80 163.60" stroke="#e8262a" stroke-width="1.4" fill="none"/>
<path d="M532.40 176.20L541.60 185.40M532.40 185.40L541.60 176.20" stroke="#e8262a" stroke-width="1.4" fill="none"/>
<path d="M559.50 188.70L568.70 197.90M559.50 197.90L568.70 188.70" stroke="#e8262a" stroke-width="1.4" fill="none"/>
<path d="M586.40 209.10L595.60 218.30M586.40 218.30L595.60 209.10" stroke="#e8262a" stroke-width="1.4" fill="none"/>
<path d="M613.30 224.20L622.50 233.40M613.30 233.40L622.50 224.20" stroke="#e8262a" stroke-width="1.4" fill="none"/>
<path d="M635.70 266.10L644.90 275.30M635.70 275.30L644.90 266.10" stroke="#e8262a" stroke-width="1.4" fill="none"/>
</g>
<rect x="59.5" y="56.5" width="268.0" height="268.0" fill="none" stroke="#000" stroke-width="1.1"/>
<rect x="415.5" y="56.5" width="268.0" height="268.0" fill="none" stroke="#000" stroke-width="1.1"/>
<path d="M59.50 324.5V319.5M59.50 56.5V61.5M59.5 324.50H64.5M327.5 324.50H322.5M70.67 324.5V319.5M70.67 56.5V61.5M59.5 313.33H64.5M327.5 313.33H322.5M81.83 324.5V314.5M81.83 56.5V66.5M59.5 302.17H69.5M327.5 302.17H317.5M93.00 324.5V319.5M93.00 56.5V61.5M59.5 291.00H64.5M327.5 291.00H322.5M104.17 324.5V319.5M104.17 56.5V61.5M59.5 279.83H64.5M327.5 279.83H322.5M115.33 324.5V319.5M115.33 56.5V61.5M59.5 268.67H64.5M327.5 268.67H322.5M126.50 324.5V314.5M126.50 56.5V66.5M59.5 257.50H69.5M327.5 257.50H317.5M137.67 324.5V319.5M137.67 56.5V61.5M59.5 246.33H64.5M327.5 246.33H322.5M148.83 324.5V319.5M148.83 56.5V61.5M59.5 235.17H64.5M327.5 235.17H322.5M160.00 324.5V319.5M160.00 56.5V61.5M59.5 224.00H64.5M327.5 224.00H322.5M171.17 324.5V314.5M171.17 56.5V66.5M59.5 212.83H69.5M327.5 212.83H317.5M182.33 324.5V319.5M182.33 56.5V61.5M59.5 201.67H64.5M327.5 201.67H322.5M193.50 324.5V319.5M193.50 56.5V61.5M59.5 190.50H64.5M327.5 190.50H322.5M204.67 324.5V319.5M204.67 56.5V61.5M59.5 179.33H64.5M327.5 179.33H322.5M215.83 324.5V314.5M215.83 56.5V66.5M59.5 168.17H69.5M327.5 168.17H317.5M227.00 324.5V319.5M227.00 56.5V61.5M59.5 157.00H64.5M327.5 157.00H322.5M238.17 324.5V319.5M238.17 56.5V61.5M59.5 145.83H64.5M327.5 145.83H322.5M249.33 324.5V319.5M249.33 56.5V61.5M59.5 134.67H64.5M327.5 134.67H322.5M260.50 324.5V314.5M260.50 56.5V66.5M59.5 123.50H69.5M327.5 123.50H317.5M271.67 324.5V319.5M271.67 56.5V61.5M59.5 112.33H64.5M327.5 112.33H322.5M282.83 324.5V319.5M282.83 56.5V61.5M59.5 101.17H64.5M327.5 101.17H322.5M294.00 324.5V319.5M294.00 56.5V61.5M59.5 90.00H64.5M327.5 90.00H322.5M305.17 324.5V314.5M305.17 56.5V66.5M59.5 78.83H69.5M327.5 78.83H317.5M316.33 324.5V319.5M316.33 56.5V61.5M59.5 67.67H64.5M327.5 67.67H322.5M327.50 324.5V319.5M327.50 56.5V61.5M59.5 56.50H64.5M327.5 56.50H322.5" stroke="#000" stroke-width="1.1" fill="none"/>
<path d="M425.83 324.5V319.5M425.83 56.5V61.5M442.58 324.5V319.5M442.58 56.5V61.5M455.56 324.5V319.5M455.56 56.5V61.5M466.17 324.5V319.5M466.17 56.5V61.5M475.14 324.5V319.5M475.14 56.5V61.5M482.91 324.5V319.5M482.91 56.5V61.5M489.77 324.5V319.5M489.77 56.5V61.5M495.90 324.5V314.5M495.90 56.5V66.5M536.24 324.5V319.5M536.24 56.5V61.5M559.83 324.5V319.5M559.83 56.5V61.5M415.5 315.51H420.5M683.5 315.51H678.5M576.58 324.5V319.5M576.58 56.5V61.5M415.5 300.96H420.5M683.5 300.96H678.5M589.56 324.5V319.5M589.56 56.5V61.5M415.5 289.66H420.5M683.5 289.66H678.5M600.17 324.5V319.5M600.17 56.5V61.5M415.5 280.44H420.5M683.5 280.44H678.5M609.14 324.5V319.5M609.14 56.5V61.5M415.5 272.64H420.5M683.5 272.64H678.5M616.91 324.5V319.5M616.91 56.5V61.5M415.5 265.88H420.5M683.5 265.88H678.5M623.77 324.5V319.5M623.77 56.5V61.5M415.5 259.92H420.5M683.5 259.92H678.5M629.90 324.5V314.5M629.90 56.5V66.5M415.5 254.59H425.5M683.5 254.59H673.5M670.24 324.5V319.5M670.24 56.5V61.5M415.5 219.51H420.5M683.5 219.51H678.5M415.5 198.99H420.5M683.5 198.99H678.5M415.5 184.43H420.5M683.5 184.43H678.5M415.5 173.14H420.5M683.5 173.14H678.5M415.5 163.92H420.5M683.5 163.92H678.5M415.5 156.11H420.5M683.5 156.11H678.5M415.5 149.36H420.5M683.5 149.36H678.5M415.5 143.40H420.5M683.5 143.40H678.5M415.5 138.06H425.5M683.5 138.06H673.5M415.5 102.99H420.5M683.5 102.99H678.5M415.5 82.47H420.5M683.5 82.47H678.5M415.5 67.91H420.5M683.5 67.91H678.5M415.5 56.62H420.5M683.5 56.62H678.5" stroke="#000" stroke-width="1.1" fill="none"/>
<g class="th">
<text x="0" y="0" transform="translate(40.69,307.74) scale(1.100,1)" font-size="16.2" fill="#000" >0</text>
<text x="0" y="0" transform="translate(26.02,263.08) scale(1.100,1)" font-size="16.2" fill="#000" >0.2</text>
<text x="0" y="0" transform="translate(25.65,218.41) scale(1.100,1)" font-size="16.2" fill="#000" >0.4</text>
<text x="0" y="0" transform="translate(25.91,173.74) scale(1.100,1)" font-size="16.2" fill="#000" >0.6</text>
<text x="0" y="0" transform="translate(25.90,129.08) scale(1.100,1)" font-size="16.2" fill="#000" >0.8</text>
<text x="0" y="0" transform="translate(39.16,84.41) scale(1.100,1)" font-size="16.2" fill="#000" >1</text>
<text x="0" y="0" transform="translate(76.88,344.58) scale(1.100,1)" font-size="16.2" fill="#000" >0</text>
<text x="0" y="0" transform="translate(114.21,344.58) scale(1.100,1)" font-size="16.2" fill="#000" >0.2</text>
<text x="0" y="0" transform="translate(158.69,344.58) scale(1.100,1)" font-size="16.2" fill="#000" >0.4</text>
<text x="0" y="0" transform="translate(203.49,344.58) scale(1.100,1)" font-size="16.2" fill="#000" >0.6</text>
<text x="0" y="0" transform="translate(248.15,344.58) scale(1.100,1)" font-size="16.2" fill="#000" >0.8</text>
<text x="0" y="0" transform="translate(299.97,344.57) scale(1.100,1)" font-size="16.2" fill="#000" >1</text>
<text x="0" y="0" transform="translate(479.31,344.58) scale(1.100,1)" font-size="16.2" fill="#000" >10</text>
<text x="0" y="0" transform="translate(499.72,339.58) scale(1.100,1)" font-size="9.5" fill="#000" class="nt">−1</text>
<text x="0" y="0" transform="translate(616.26,344.58) scale(1.100,1)" font-size="16.2" fill="#000" >10</text>
<text x="0" y="0" transform="translate(636.78,339.58) scale(1.100,1)" font-size="9.5" fill="#000" class="nt">0</text>
<text x="0" y="0" transform="translate(400.20,138.44) scale(1.100,1)" font-size="9.5" fill="#000" class="nt">1</text>
<text x="0" y="0" transform="translate(380.07,143.64) scale(1.100,1)" font-size="16.2" fill="#000" >10</text>
<text x="0" y="0" transform="translate(400.10,254.96) scale(1.100,1)" font-size="9.5" fill="#000" class="nt">0</text>
<text x="0" y="0" transform="translate(379.58,260.16) scale(1.100,1)" font-size="16.2" fill="#000" >10</text>
<text x="0" y="0" transform="translate(169.97,365.20) scale(0.946,1)" font-size="14.6" fill="#000" >R</text>
<text x="0" y="0" transform="translate(191.57,365.20) scale(0.946,1)" font-size="14.6" fill="#000" >R</text>
<path d="M181.2 367.8L190.8 352.6" stroke="#222" stroke-width="1.05"/>
<text x="0" y="0" transform="translate(201.77,369.80) scale(1.124,1)" font-size="9.8" fill="#000" class="nt">0.3</text>
<text x="0" y="0" transform="translate(526.67,365.20) scale(0.946,1)" font-size="14.6" fill="#000" >R</text>
<text x="0" y="0" transform="translate(548.27,365.20) scale(0.946,1)" font-size="14.6" fill="#000" >R</text>
<path d="M537.9 367.8L547.5 352.6" stroke="#222" stroke-width="1.05"/>
<text x="0" y="0" transform="translate(558.47,369.80) scale(1.124,1)" font-size="9.8" fill="#000" class="nt">0.3</text>
<g transform="translate(12.1,190.6) rotate(-90)">
<text x="0" y="0" transform="translate(-21.06,0.00) scale(0.878,1)" font-size="15.4" fill="#000" >V</text>
<text x="0" y="0" transform="translate(-0.96,0.00) scale(0.878,1)" font-size="15.4" fill="#000" >V</text>
<text x="0" y="0" transform="translate(7.82,3.90) scale(1.034,1)" font-size="9.4" fill="#000" class="nt">0.3</text>
</g>
<path d="M15.2 202.4L1.7 191.4" stroke="#222" stroke-width="1.05"/>
<g transform="translate(367.2,191.5) rotate(-90)">
<text x="0" y="0" transform="translate(-22.81,0.00) scale(1.013,1)" font-size="17.0" fill="#000" font-style="italic">ρ</text>
<text x="0" y="0" transform="translate(-2.61,0.00) scale(1.013,1)" font-size="17.0" fill="#000" font-style="italic">ρ</text>
<text x="0" y="0" transform="translate(8.51,4.40) scale(0.958,1)" font-size="10.3" fill="#000" class="nt">0.3</text>
</g>
<path d="M369.9 203.2L355.2 192.6" stroke="#222" stroke-width="1.05"/>
<text x="0" y="0" transform="translate(77.47,89.30) scale(0.951,1)" font-size="17.0" fill="#000" >DM</text>
<text x="0" y="0" transform="translate(111.05,89.30) scale(1.045,1)" font-size="17.0" fill="#000" >only</text>
<text x="0" y="0" transform="translate(553.10,88.60) scale(0.930,1)" font-size="17.0" fill="#000" >DM</text>
<text x="0" y="0" transform="translate(586.26,88.60) scale(1.041,1)" font-size="17.0" fill="#000" >only</text>
</g>
</svg>
</body></html>
